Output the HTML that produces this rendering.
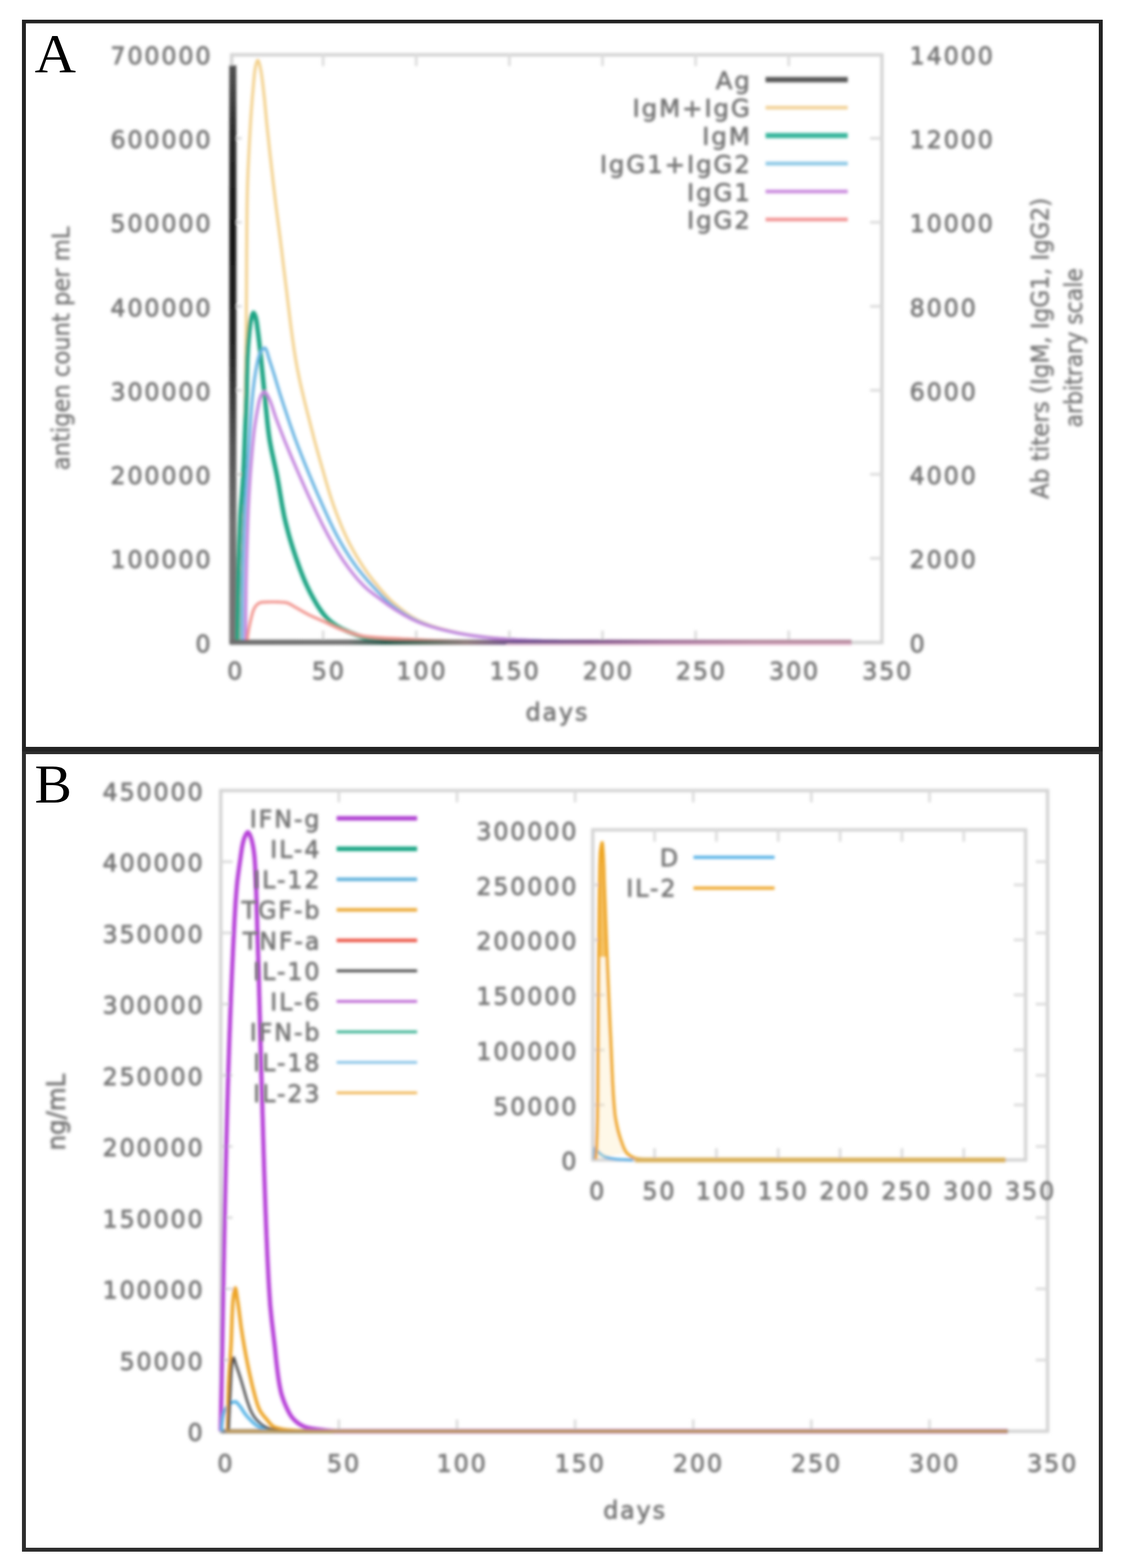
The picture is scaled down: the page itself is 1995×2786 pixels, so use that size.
<!DOCTYPE html>
<html lang="en">
<head>
<meta charset="utf-8">
<title>Immune simulation: antibody titers and cytokine levels</title>
<style>
html,body{margin:0;padding:0;background:#fff;}
body{width:1995px;height:2786px;overflow:hidden;}
svg{display:block;}
svg text{font-family:"DejaVu Sans","Liberation Sans",sans-serif;}
</style>
</head>
<body>
<svg width="1995" height="2786" viewBox="0 0 1995 2786">
<defs><filter id="bl" x="-2%" y="-2%" width="104%" height="104%" filterUnits="objectBoundingBox"><feGaussianBlur stdDeviation="2.6"/></filter><filter id="bt" x="-2%" y="-2%" width="104%" height="104%" filterUnits="objectBoundingBox"><feGaussianBlur stdDeviation="2.4"/></filter></defs>
<rect x="0" y="0" width="1995" height="2786" fill="#ffffff"/>
<g filter="url(#bl)">
<rect x="411.5" y="97.4" width="1155.2" height="1044.2" fill="none" stroke="#d4d4d4" stroke-width="6"/>
<line x1="574" y1="1141.3" x2="574" y2="1120.3" stroke="#dadada" stroke-width="4.5" opacity="1.0"/>
<line x1="574" y1="96.5" x2="574" y2="117.5" stroke="#dadada" stroke-width="4.5" opacity="1.0"/>
<line x1="739.4" y1="1141.3" x2="739.4" y2="1120.3" stroke="#dadada" stroke-width="4.5" opacity="1.0"/>
<line x1="739.4" y1="96.5" x2="739.4" y2="117.5" stroke="#dadada" stroke-width="4.5" opacity="1.0"/>
<line x1="904.9" y1="1141.3" x2="904.9" y2="1120.3" stroke="#dadada" stroke-width="4.5" opacity="1.0"/>
<line x1="904.9" y1="96.5" x2="904.9" y2="117.5" stroke="#dadada" stroke-width="4.5" opacity="1.0"/>
<line x1="1070.3" y1="1141.3" x2="1070.3" y2="1120.3" stroke="#dadada" stroke-width="4.5" opacity="1.0"/>
<line x1="1070.3" y1="96.5" x2="1070.3" y2="117.5" stroke="#dadada" stroke-width="4.5" opacity="1.0"/>
<line x1="1235.8" y1="1141.3" x2="1235.8" y2="1120.3" stroke="#dadada" stroke-width="4.5" opacity="1.0"/>
<line x1="1235.8" y1="96.5" x2="1235.8" y2="117.5" stroke="#dadada" stroke-width="4.5" opacity="1.0"/>
<line x1="1401.2" y1="1141.3" x2="1401.2" y2="1120.3" stroke="#dadada" stroke-width="4.5" opacity="1.0"/>
<line x1="1401.2" y1="96.5" x2="1401.2" y2="117.5" stroke="#dadada" stroke-width="4.5" opacity="1.0"/>
<line x1="408.5" y1="992" x2="429.5" y2="992" stroke="#dadada" stroke-width="4.5" opacity="1.0"/>
<line x1="1566.7" y1="992" x2="1545.7" y2="992" stroke="#dadada" stroke-width="4.5" opacity="1.0"/>
<line x1="408.5" y1="842.8" x2="429.5" y2="842.8" stroke="#dadada" stroke-width="4.5" opacity="1.0"/>
<line x1="1566.7" y1="842.8" x2="1545.7" y2="842.8" stroke="#dadada" stroke-width="4.5" opacity="1.0"/>
<line x1="408.5" y1="693.5" x2="429.5" y2="693.5" stroke="#dadada" stroke-width="4.5" opacity="1.0"/>
<line x1="1566.7" y1="693.5" x2="1545.7" y2="693.5" stroke="#dadada" stroke-width="4.5" opacity="1.0"/>
<line x1="408.5" y1="544.3" x2="429.5" y2="544.3" stroke="#dadada" stroke-width="4.5" opacity="1.0"/>
<line x1="1566.7" y1="544.3" x2="1545.7" y2="544.3" stroke="#dadada" stroke-width="4.5" opacity="1.0"/>
<line x1="408.5" y1="395" x2="429.5" y2="395" stroke="#dadada" stroke-width="4.5" opacity="1.0"/>
<line x1="1566.7" y1="395" x2="1545.7" y2="395" stroke="#dadada" stroke-width="4.5" opacity="1.0"/>
<line x1="408.5" y1="245.8" x2="429.5" y2="245.8" stroke="#dadada" stroke-width="4.5" opacity="1.0"/>
<line x1="1566.7" y1="245.8" x2="1545.7" y2="245.8" stroke="#dadada" stroke-width="4.5" opacity="1.0"/>
<defs><linearGradient id="agv" gradientUnits="userSpaceOnUse" x1="0" y1="116" x2="0" y2="1141"><stop offset="0" stop-color="#505050"/><stop offset="0.12" stop-color="#2a2a2a"/><stop offset="0.3" stop-color="#161616"/><stop offset="0.5" stop-color="#262626"/><stop offset="0.65" stop-color="#505050"/><stop offset="0.8" stop-color="#707070"/><stop offset="1" stop-color="#747474"/></linearGradient><linearGradient id="agh" gradientUnits="userSpaceOnUse" x1="408" y1="0" x2="1513" y2="0"><stop offset="0" stop-color="#6c6c6c"/><stop offset="0.19" stop-color="#707070"/><stop offset="0.25" stop-color="#2c5a4c"/><stop offset="0.31" stop-color="#566a5c"/><stop offset="0.38" stop-color="#8a7878"/><stop offset="0.46" stop-color="#6c4c8a"/><stop offset="0.58" stop-color="#7c5088"/><stop offset="0.7" stop-color="#a0709a"/><stop offset="0.85" stop-color="#b4889e"/><stop offset="1" stop-color="#b88ca0"/></linearGradient></defs>
<rect x="407.3" y="116" width="12.5" height="1028" fill="url(#agv)"/>
<path d="M427 1141 L427.1 1135 L427.3 1129 L427.4 1123 L427.5 1117 L427.7 1111 L427.8 1105 L427.9 1099 L428 1093 L428.2 1087 L428.3 1081 L428.4 1075 L428.6 1069 L428.7 1063 L428.8 1057 L428.9 1051 L429.1 1045 L429.2 1039 L429.3 1033 L429.4 1027 L429.6 1021 L429.7 1015 L429.8 1009 L429.9 1003 L430 1000 L430.1 997 L430.2 991 L430.3 985 L430.4 979 L430.6 973 L430.7 967 L430.8 961 L430.9 955 L431.1 949 L431.2 943 L431.3 937 L431.4 931 L431.6 925 L431.7 919 L431.8 913.1 L431.9 907.1 L432.1 901.1 L432.2 895.1 L432.3 889.1 L432.4 883.1 L432.6 877.1 L432.7 871.1 L432.8 865.1 L432.9 859.1 L433 853.1 L433.1 847.1 L433.3 841.1 L433.4 835.1 L433.5 829.1 L433.6 823.1 L433.7 817.1 L433.8 811.1 L433.9 805.1 L434 800 L434 799.1 L434.1 793.1 L434.2 787.1 L434.3 781.1 L434.4 775.1 L434.5 769.1 L434.6 763.1 L434.7 757.1 L434.8 751.1 L434.9 745.1 L435 739.1 L435.1 733.1 L435.2 727.1 L435.3 721.1 L435.4 715.1 L435.5 709.1 L435.6 703.1 L435.7 697.1 L435.8 691.1 L435.9 685.1 L436 679.1 L436.1 673.1 L436.2 667.1 L436.2 661.1 L436.3 655.1 L436.4 649.1 L436.5 643.1 L436.6 637.1 L436.7 631.1 L436.7 625.1 L436.8 619.1 L436.9 613.1 L437 607.1 L437 601.1 L437.1 595.1 L437.2 589.1 L437.3 583.1 L437.3 577.1 L437.4 571.1 L437.4 565.1 L437.5 560 L437.5 559.1 L437.6 553.1 L437.6 547.1 L437.7 541.1 L437.7 535.1 L437.8 529.1 L437.8 523.1 L437.8 517.1 L437.9 511.1 L437.9 505.1 L437.9 499.1 L438 493.1 L438 487.1 L438 481.1 L438.1 475.1 L438.1 469.1 L438.1 463.1 L438.2 457.1 L438.2 451.1 L438.2 445.1 L438.3 439.1 L438.3 433.1 L438.4 427.1 L438.4 421.1 L438.4 415.1 L438.5 409.1 L438.5 403.1 L438.6 397.1 L438.6 391.1 L438.7 385.1 L438.8 379.1 L438.8 373.1 L438.9 367.1 L439 361.1 L439 360 L439.1 355.1 L439.2 349.1 L439.3 343.1 L439.5 337.1 L439.6 331.1 L439.8 325.1 L440 319.1 L440.3 313.1 L440.5 307.1 L440.7 301.1 L441 295.1 L441.3 289.1 L441.6 283.1 L441.9 277.2 L442.2 271.2 L442.5 265.2 L442.8 259.2 L443.1 253.2 L443.4 247.2 L443.8 241.2 L444.1 235.2 L444.4 229.2 L444.5 228 L444.8 223.2 L445.1 217.2 L445.5 211.2 L445.9 205.3 L446.3 199.3 L446.7 193.3 L447.2 187.3 L447.7 181.3 L448.1 175.3 L448.6 169.4 L449.2 163.4 L449.7 157.4 L450 154 L450.2 151.4 L450.7 145.4 L451.3 139.4 L451.8 133.4 L452.5 127.4 L453.4 121.5 L454 118 L454.6 115.4 L456.7 108.5 L458 107 L459 108 L461.2 114.5 L462 118 L462.6 120.8 L463.7 126.7 L464.7 132.6 L465.5 138.6 L466.3 144.6 L467 150.6 L467.4 154 L467.7 156.5 L468.4 162.5 L469 168.4 L469.7 174.4 L470.3 180.4 L470.8 186.4 L471.4 192.3 L471.9 198.3 L472.5 204.3 L473 210.3 L473.6 216.2 L474.2 222.2 L474.8 228 L474.8 228.2 L475.4 234.1 L476.1 240.1 L476.7 246.1 L477.4 252 L478 258 L478.6 264 L479.3 269.9 L479.9 275.9 L480.6 281.9 L481.3 287.8 L481.9 293.8 L482.6 299.8 L483.3 305.7 L484 311.7 L484.6 317.6 L485.3 323.6 L486 329.6 L486.7 335.5 L487.4 341.5 L488.1 347.4 L488.8 353.4 L489.5 359.4 L489.6 360 L490.2 365.3 L491 371.3 L491.7 377.2 L492.5 383.2 L493.3 389.1 L494 395.1 L494.8 401 L495.6 407 L496.3 412.9 L497.1 418.9 L497.9 424.8 L498.5 430 L498.6 430.8 L499.3 436.7 L500.1 442.7 L500.8 448.6 L501.5 454.6 L502.2 460.6 L502.9 466.5 L503.6 472.5 L504.3 478.4 L505.1 484.4 L505.8 490.3 L506.5 496.3 L507 500 L507.3 502.3 L508 508.2 L508.8 514.2 L509.5 520.1 L510.2 526.1 L510.9 532.1 L511.6 538 L512.3 544 L513.1 550 L513.8 555.9 L514.5 561.9 L515.2 567.8 L516 573.8 L516.7 579.8 L517.5 585.7 L518.3 591.7 L519.1 597.6 L519.9 603.6 L520.8 609.5 L521.6 615.4 L522.5 621.3 L523.4 627.3 L524.4 633.2 L525.3 639.1 L525.5 640 L526.4 645 L527.4 650.9 L528.5 656.7 L529.7 662.6 L530.9 668.5 L532.1 674.4 L533.4 680.2 L534.7 686.1 L536 691.9 L537.4 697.8 L538.8 703.6 L540.2 709.5 L541.6 715.3 L543.1 721.1 L544.5 727 L546 732.8 L547.5 738.6 L549 744.4 L550.5 750.3 L552 756.1 L553.4 761.9 L554.9 767.7 L555.5 770 L556.4 773.5 L557.9 779.3 L559.4 785.1 L561 790.9 L562.6 796.7 L564.2 802.5 L565.8 808.3 L567.4 814.1 L569 819.8 L570.7 825.6 L572.3 831.4 L572.4 831.6 L574 837.1 L575.6 842.9 L577.3 848.7 L578.9 854.5 L580.6 860.2 L582.3 866 L584 871.8 L585.8 877.5 L587.6 883.2 L589.4 888.9 L590.9 893.2 L591.4 894.6 L593.3 900.2 L595.4 905.9 L597.4 911.5 L599.6 917.1 L601.8 922.8 L604 928.3 L606.3 933.9 L608.6 939.4 L611 944.9 L613.5 950.4 L615.5 954.7 L616 955.8 L618.6 961.2 L621.3 966.5 L624.1 971.8 L627 977.1 L630 982.4 L633 987.6 L636.1 992.7 L639.3 997.8 L642.5 1002.9 L643.2 1004 L645.8 1007.9 L649.1 1012.8 L652.6 1017.7 L656.2 1022.5 L659.9 1027.3 L663.6 1032.1 L667.4 1036.7 L670.9 1041 L671.2 1041.3 L675 1045.9 L679 1050.5 L683 1055 L687.1 1059.5 L691.2 1063.8 L695.5 1068 L699.9 1071.9 L700 1072 L704.5 1075.8 L709.1 1079.6 L713.9 1083.4 L718.8 1087 L723.7 1090.6 L728.8 1093.9 L733.9 1097.1 L739.1 1100 L744.4 1102.7 L745 1103 L749.7 1105.1 L755.2 1107.4 L760.8 1109.6 L766.5 1111.6 L772.2 1113.6 L778 1115.4 L783.8 1117.1 L789.6 1118.6 L791 1119 L795.4 1120.1 L801.2 1121.6 L807.1 1122.9 L813 1124.2 L818.9 1125.4 L824.8 1126.5 L830.7 1127.5 L836.6 1128.4 L837 1128.5 L842.5 1129.3 L848.5 1130 L854.4 1130.8 L860.4 1131.5 L866.4 1132.1 L872.3 1132.7 L878.3 1133.3 L884.3 1133.8 L890.3 1134.3 L896.3 1134.8 L898.7 1135 L902.2 1135.3 L908.2 1135.7 L914.2 1136.1 L920.2 1136.5 L926.2 1136.8 L932.2 1137.2 L938.2 1137.5 L944.2 1137.8 L950.2 1138.1 L956.2 1138.3 L960 1138.5 L962.2 1138.6 L968.2 1138.8 L974.1 1139 L980.1 1139.2 L986.1 1139.5 L992.1 1139.7 L998.1 1139.9 L1004.1 1140 L1010.1 1140.2 L1016.1 1140.4 L1022.1 1140.5 L1028.1 1140.7 L1034.1 1140.8 L1040.1 1140.9 L1046.1 1141 L1050 1141" fill="none" stroke="#f3d08c" stroke-width="5.2" stroke-linejoin="round" stroke-linecap="butt" opacity="1.0" />
<path d="M422 1141 L422 1135 L422.1 1129 L422.1 1123 L422.2 1117 L422.3 1111 L422.3 1105 L422.4 1099 L422.5 1093 L422.6 1087 L422.7 1081 L422.8 1075 L422.9 1069 L423 1063 L423 1060 L423.1 1057 L423.2 1051 L423.3 1045 L423.4 1039 L423.5 1033 L423.6 1027 L423.8 1021 L423.9 1015 L424 1009 L424.2 1003 L424.3 997 L424.5 991 L424.7 985 L424.9 979 L425 973 L425.2 967 L425.4 961 L425.6 955 L425.9 949 L426.1 943 L426.3 937 L426.5 931 L426.8 925.1 L427 920 L427 919.1 L427.3 913.1 L427.7 907.1 L428.1 901.1 L428.6 895.1 L429.1 889.1 L429.6 883.2 L430.1 877.2 L430.5 871.2 L431 865.2 L431.4 859.2 L431.8 853.2 L432 850 L432.1 847.2 L432.4 841.3 L432.7 835.3 L433 829.3 L433.3 823.3 L433.5 817.3 L433.8 811.3 L434 805.3 L434.2 799.3 L434.5 793.3 L434.7 787.3 L434.9 781.3 L435 780 L435.2 775.3 L435.4 769.3 L435.7 763.3 L435.9 757.3 L436.2 751.3 L436.4 745.3 L436.7 739.3 L436.9 733.3 L437.1 727.3 L437.3 721.4 L437.5 715.4 L437.7 709.4 L437.9 703.4 L438 700 L438.1 697.4 L438.2 691.4 L438.3 685.4 L438.4 679.4 L438.5 673.4 L438.6 667.4 L438.8 661.4 L438.9 655.4 L439 649.4 L439.2 643.4 L439.3 640 L439.4 637.4 L439.7 631.4 L440 625.4 L440.3 619.4 L440.7 613.4 L441.2 607.4 L441.7 601.4 L442.3 595.5 L442.8 589.5 L443 588 L443.5 583.5 L444.2 577.5 L445.1 571.5 L446.3 565.7 L447 563 L448.1 559.4 L450.3 556 L451 556.4 L453.9 562.5 L454 563 L455.2 568.2 L456.2 574.1 L457 580.2 L457.8 586.2 L458 588 L458.6 592.2 L459.3 598.1 L460 604.1 L460.7 610 L461.3 616 L462 622 L462.6 627.9 L463.3 633.9 L463.9 639.9 L463.9 640 L464.5 645.8 L465.1 651.8 L465.7 657.8 L466.3 663.7 L466.9 669.7 L467.5 675.7 L468.1 681.7 L468.7 687.6 L469.3 693.6 L470 699.6 L470 700 L470.6 705.5 L471.2 711.5 L471.7 717.5 L472.3 723.5 L472.9 729.4 L473.5 735.4 L474.1 741.4 L474.7 747.4 L475.3 753.3 L476 759.3 L476.7 765.2 L477.5 771.2 L478 775 L478.3 777.1 L479.2 783 L480.3 788.9 L481.4 794.8 L482.5 800.7 L483.8 806.6 L485.1 812.4 L486.3 818.3 L487.6 824.2 L488.9 830 L490.2 835.9 L491.4 841.8 L492.4 847 L492.5 847.7 L493.6 853.6 L494.7 859.5 L495.7 865.4 L496.7 871.4 L497.7 877.3 L498.7 883.2 L499.7 889.1 L500.7 895.1 L501.8 901 L502.9 906.8 L504 912.7 L505.2 918.6 L506 922 L506.5 924.4 L507.9 930.2 L509.4 936.1 L510.9 941.9 L512.4 947.7 L514 953.5 L515.7 959.3 L517.4 965 L519.2 970.8 L521 976.5 L522.9 982.2 L524.8 987.9 L526.7 993.6 L528.7 999.2 L529.3 1001 L530.7 1004.9 L532.7 1010.5 L534.9 1016.1 L537.1 1021.8 L539.4 1027.4 L541.7 1032.9 L544.1 1038.4 L546.7 1043.9 L549.3 1049.3 L552 1054.6 L553.8 1058 L554.8 1059.8 L557.7 1065.1 L560.8 1070.4 L563.9 1075.7 L567.3 1080.9 L570.8 1085.9 L574.4 1090.8 L578.2 1095.4 L582.2 1099.6 L584.7 1102 L586.3 1103.4 L590.9 1107.1 L595.9 1110.6 L601.1 1113.8 L606.5 1116.8 L612 1119.4 L615.5 1121 L617.4 1121.8 L622.9 1124.1 L628.5 1126.3 L634.2 1128.4 L639.9 1130.4 L645.7 1132.2 L651.6 1133.9 L657.4 1135.2 L663.3 1136.4 L667.8 1137 L669.2 1137.2 L675.1 1137.8 L681.1 1138.4 L687.1 1138.9 L693.1 1139.2 L698.5 1139.5 L699.1 1139.5 L705.1 1139.8 L711.1 1140 L717.1 1140.2 L723.1 1140.4 L729.1 1140.6 L735.1 1140.7 L741.1 1140.8 L747.1 1140.9 L753.1 1141 L759.1 1141 L760 1141" fill="none" stroke="#1aa484" stroke-width="8" stroke-linejoin="round" stroke-linecap="butt" opacity="1.0" />
<path d="M430 1141 L430 1135 L430 1129 L430 1123 L430.1 1117 L430.1 1111 L430.2 1105 L430.2 1099 L430.3 1093 L430.3 1087 L430.4 1081 L430.4 1075 L430.5 1069 L430.6 1063 L430.6 1060 L430.6 1057 L430.7 1051 L430.8 1045 L430.9 1039 L431 1033 L431.1 1027 L431.3 1021 L431.4 1015 L431.6 1009 L431.7 1003 L431.9 997 L432 991 L432.2 985 L432.4 979 L432.6 973 L432.8 967 L433 961 L433.2 955 L433.4 949 L433.6 943 L433.9 937 L434.1 931 L434.3 925.1 L434.5 920 L434.5 919.1 L434.8 913.1 L435 907.1 L435.3 901.1 L435.6 895.1 L435.9 889.1 L436.2 883.1 L436.6 877.1 L436.9 871.1 L437.3 865.1 L437.7 859.1 L438 853.2 L438.4 847.2 L438.8 841.2 L439.2 835.2 L439.6 829.2 L440 823.2 L440.4 817.2 L440.8 811.2 L441.3 805.3 L441.7 799.3 L442.1 793.3 L442.5 787.3 L442.9 781.3 L443 780 L443.3 775.3 L443.7 769.3 L444.1 763.3 L444.5 757.4 L444.9 751.4 L445.3 745.4 L445.7 739.4 L446.2 733.4 L446.6 727.4 L447.1 721.4 L447.6 715.5 L448.1 709.5 L448.7 703.5 L449 700 L449.2 697.6 L449.9 691.6 L450.6 685.6 L451.3 679.6 L452.1 673.7 L453 667.7 L453.9 661.8 L454.9 655.9 L456 650 L456 650 L457.2 644 L458.5 637.9 L460.1 632 L462.2 626.6 L463 625 L465.6 621.4 L470 618 L470.1 618 L472.7 620.5 L474.9 626.6 L476.9 633.9 L478.7 640 L478.9 640.4 L480.8 646.1 L482.7 651.8 L484.5 657.5 L486.3 663.2 L488.1 668.9 L489.8 674.7 L491.5 680.5 L493.2 686.2 L495 692 L496.7 697.7 L498.5 703.4 L500 708 L500.4 709.1 L502.2 714.8 L504.1 720.5 L506 726.2 L507.9 731.9 L509.8 737.6 L511.7 743.3 L513.6 749 L515.5 754.7 L517.5 760.4 L519.5 766 L521.5 771.7 L523.5 777.3 L524.5 780 L525.6 782.9 L527.7 788.6 L529.8 794.2 L532 799.8 L534.2 805.4 L536.4 810.9 L538.6 816.5 L540.8 822.1 L543.1 827.6 L544.7 831.6 L545.4 833.2 L547.6 838.8 L549.9 844.3 L552.2 849.8 L554.5 855.4 L556.9 860.9 L559.2 866.4 L561.6 872 L563.9 877.5 L566.4 883 L568.8 888.4 L570.9 893.2 L571.2 893.9 L573.7 899.4 L576.1 904.9 L578.6 910.4 L581.1 915.8 L583.6 921.3 L586.1 926.8 L588.7 932.2 L591.3 937.6 L594 943 L596.7 948.3 L599.5 953.6 L600.1 954.7 L602.4 958.8 L605.3 964 L608.3 969.2 L611.4 974.4 L614.5 979.5 L617.8 984.6 L621 989.7 L624.4 994.7 L627.8 999.6 L630.9 1004 L631.2 1004.5 L634.8 1009.3 L638.5 1014 L642.2 1018.7 L646.1 1023.3 L650 1027.9 L653.9 1032.4 L657.9 1036.9 L661.7 1041 L662 1041.3 L666.1 1045.7 L670.2 1050.1 L674.4 1054.5 L678.6 1058.9 L682.9 1063.1 L687.3 1067.3 L691.7 1071.3 L696.3 1075.1 L700 1078 L700.9 1078.7 L705.7 1082.2 L710.6 1085.7 L715.7 1089 L720.8 1092.3 L726 1095.4 L731.3 1098.4 L736.6 1101.1 L742 1103.7 L745 1105 L747.5 1106 L753 1108.2 L758.6 1110.3 L764.3 1112.3 L770 1114.2 L775.8 1115.9 L781.6 1117.6 L787.4 1119.1 L791 1120 L793.2 1120.5 L799.1 1121.9 L804.9 1123.2 L810.8 1124.5 L816.7 1125.6 L822.6 1126.7 L828.6 1127.7 L834.5 1128.6 L837 1129 L840.4 1129.5 L846.3 1130.3 L852.3 1131 L858.3 1131.7 L864.2 1132.4 L870.2 1133.1 L876.2 1133.7 L882.2 1134.2 L888.1 1134.7 L894.1 1135.2 L898.7 1135.5 L900.1 1135.6 L906.1 1136 L912.1 1136.3 L918.1 1136.7 L924.1 1137 L930.1 1137.3 L936 1137.5 L942 1137.8 L948 1138 L954 1138.3 L960 1138.5 L960 1138.5 L966 1138.7 L972 1138.9 L978 1139.1 L984 1139.3 L990 1139.5 L996 1139.7 L1002 1139.9 L1008 1140.1 L1014 1140.2 L1020 1140.4 L1026 1140.5 L1032 1140.7 L1038 1140.8 L1044 1140.9 L1050 1141 L1050 1141" fill="none" stroke="#68b4e2" stroke-width="5.4" stroke-linejoin="round" stroke-linecap="butt" opacity="1.0" />
<path d="M436 1141 L436 1135 L436.1 1129 L436.1 1123 L436.1 1117 L436.2 1111 L436.3 1105 L436.3 1099 L436.4 1093 L436.4 1087 L436.5 1081 L436.6 1075 L436.7 1069 L436.8 1063 L436.8 1060 L436.8 1057 L436.9 1051 L437 1045 L437.1 1039 L437.2 1033 L437.4 1027 L437.5 1021 L437.6 1015 L437.8 1009 L437.9 1003 L438 997 L438.2 991 L438.4 985 L438.5 979 L438.7 973 L438.9 967 L439.1 961 L439.3 955 L439.5 949 L439.7 943 L439.9 937 L440.1 931 L440.3 925 L440.5 920 L440.5 919.1 L440.8 913.1 L441 907.1 L441.3 901.1 L441.6 895.1 L441.9 889.1 L442.2 883.1 L442.5 877.1 L442.9 871.1 L443.2 865.1 L443.6 859.1 L444 853.1 L444.4 847.1 L444.8 841.1 L445.3 835.1 L445.7 829.2 L446.2 823.2 L446.7 817.2 L447.2 811.2 L447.7 805.2 L448.2 799.3 L448.7 793.3 L449.3 787.3 L449.9 781.4 L450 780 L450.5 775.4 L451.1 769.4 L451.8 763.5 L452.6 757.5 L453.5 751.6 L454.4 745.6 L455.3 739.7 L456.4 733.8 L457.4 727.9 L458 725 L458.6 722 L459.7 715.9 L461.1 709.8 L463 704.3 L464 702 L466 699 L470 696 L470.5 696.1 L474.2 700.4 L477 706 L477.3 706.5 L479.7 711.9 L481.9 717.4 L483.8 723.1 L485.6 728.9 L487.5 734.7 L489.4 740.4 L490 742 L491.5 746 L493.6 751.7 L495.7 757.3 L497.8 762.9 L500 768.5 L502.2 774.1 L504.4 779.7 L504.5 780 L506.6 785.2 L508.9 790.8 L511.2 796.3 L513.5 801.9 L515.8 807.4 L518.1 812.9 L520.5 818.4 L522.9 823.9 L525.3 829.5 L526.2 831.6 L527.7 835 L530.1 840.5 L532.5 846 L534.9 851.4 L537.3 856.9 L539.8 862.4 L542.2 867.9 L544.7 873.4 L547.2 878.8 L549.7 884.3 L552.2 889.7 L553.9 893.2 L554.8 895.1 L557.4 900.5 L560 906 L562.5 911.4 L565.2 916.8 L567.8 922.2 L570.5 927.6 L573.2 932.9 L575.9 938.3 L578.7 943.6 L581.5 948.9 L584.4 954.1 L584.7 954.7 L587.3 959.3 L590.3 964.6 L593.3 969.7 L596.4 974.9 L599.6 980.1 L602.8 985.1 L606 990.2 L609.3 995.2 L612.7 1000.1 L615.5 1004 L616.2 1005 L619.7 1009.8 L623.4 1014.6 L627.1 1019.4 L630.9 1024.1 L634.8 1028.7 L638.8 1033.2 L642.9 1037.5 L646.3 1041 L647.1 1041.7 L651.4 1045.7 L656 1049.6 L660.7 1053.3 L665.5 1057 L670.4 1060.6 L675.2 1064.2 L677.1 1065.6 L680 1067.8 L684.8 1071.4 L689.7 1075 L694.6 1078.4 L698.5 1081 L699.6 1081.7 L704.7 1084.9 L709.8 1088 L715 1091.1 L720.2 1094.1 L725.5 1097 L730.9 1099.8 L736.3 1102.4 L741.7 1104.8 L744.7 1106 L747.2 1107 L752.8 1109 L758.5 1110.9 L764.2 1112.8 L770 1114.5 L775.8 1116.1 L781.7 1117.7 L787.5 1119.2 L791 1120 L793.3 1120.5 L799.1 1121.9 L805 1123.2 L810.9 1124.4 L816.8 1125.6 L822.7 1126.7 L828.6 1127.7 L834.5 1128.6 L837 1129 L840.5 1129.5 L846.4 1130.3 L852.4 1131 L858.3 1131.7 L864.3 1132.4 L870.3 1133.1 L876.2 1133.7 L882.2 1134.2 L888.2 1134.7 L894.2 1135.2 L898.7 1135.5 L900.2 1135.6 L906.1 1136 L912.1 1136.3 L918.1 1136.7 L924.1 1137 L930.1 1137.3 L936.1 1137.5 L942.1 1137.8 L948.1 1138.1 L954.1 1138.3 L960 1138.5 L960.1 1138.5 L966.1 1138.7 L972.1 1138.9 L978.1 1139.1 L984.1 1139.3 L990.1 1139.5 L996.1 1139.7 L1002.1 1139.9 L1008.1 1140.1 L1014.1 1140.2 L1020.1 1140.4 L1026.1 1140.5 L1032.1 1140.7 L1038.1 1140.8 L1044.1 1140.9 L1050 1141" fill="none" stroke="#c284de" stroke-width="5.4" stroke-linejoin="round" stroke-linecap="butt" opacity="1.0" />
<path d="M439 1141 L439.5 1134.9 L440.2 1128.9 L441.1 1123 L442.1 1117.1 L443.3 1111.2 L444.5 1105.4 L445.4 1101.6 L445.9 1099.6 L447.4 1093.4 L449.1 1087.3 L451.3 1081.7 L454 1077 L454 1077 L458.4 1072.7 L463.9 1070.2 L464 1070.2 L469.6 1069.9 L475.7 1069.6 L481.9 1069.5 L485 1069.5 L487.9 1069.5 L494 1069.7 L500.1 1070 L505.9 1070.4 L507 1070.5 L511.6 1071.6 L517 1074.3 L522.3 1077.6 L525.5 1079.4 L527.6 1080.5 L532.8 1083.4 L538 1086.4 L543.3 1089.4 L548.5 1092.3 L550 1093 L553.9 1094.9 L559.4 1097.3 L564.9 1099.7 L570.4 1102.1 L574.7 1104 L575.9 1104.5 L581.3 1107.2 L586.7 1109.9 L592.1 1112.5 L597.5 1115.1 L603 1117.4 L606 1118.5 L608.6 1119.4 L614.3 1121.4 L620 1123.3 L625.8 1125.2 L631.6 1126.9 L637.5 1128.4 L643.3 1129.7 L649.2 1130.7 L652 1131 L655.1 1131.3 L661 1131.9 L667 1132.4 L672.9 1132.8 L678.9 1133.2 L684.9 1133.5 L691 1133.8 L697 1134.1 L703 1134.4 L709 1134.7 L714 1135 L715 1135.1 L721 1135.4 L727 1135.7 L733 1136.1 L739 1136.4 L745 1136.7 L751 1137 L757 1137.3 L763 1137.5 L768.9 1137.8 L774.9 1138 L775 1138 L780.9 1138.2 L786.9 1138.4 L792.9 1138.6 L798.9 1138.8 L804.9 1139 L810.9 1139.2 L816.9 1139.3 L822.9 1139.5 L828.9 1139.7 L834.9 1139.8 L840.9 1140 L846.9 1140.1 L852.9 1140.3 L858.9 1140.4 L864.9 1140.5 L870.9 1140.6 L876.9 1140.7 L882.9 1140.8 L888.9 1140.9 L894.9 1141 L900 1141" fill="none" stroke="#f29690" stroke-width="5.2" stroke-linejoin="round" stroke-linecap="butt" opacity="1.0" />
<rect x="408" y="1136.6" width="1104.8" height="9" fill="url(#agh)"/>
<rect x="900" y="1143.5" width="612.8" height="3.5" fill="#f0c8dc" opacity="0.8"/>
<line x1="1360" y1="141.5" x2="1506" y2="141.5" stroke="#585858" stroke-width="9.4" opacity="1.0"/>
<line x1="1360" y1="191.2" x2="1506" y2="191.2" stroke="#f2d298" stroke-width="6.6" opacity="1.0"/>
<line x1="1360" y1="240.9" x2="1506" y2="240.9" stroke="#38b69c" stroke-width="9.2" opacity="1.0"/>
<line x1="1360" y1="290.6" x2="1506" y2="290.6" stroke="#8ec9e6" stroke-width="6.6" opacity="1.0"/>
<line x1="1360" y1="340.3" x2="1506" y2="340.3" stroke="#cb8cdf" stroke-width="6.4" opacity="1.0"/>
<line x1="1360" y1="390" x2="1506" y2="390" stroke="#f29494" stroke-width="6.4" opacity="1.0"/>
<rect x="392.2" y="1404.6" width="1468.8" height="1138.4" fill="none" stroke="#d4d4d4" stroke-width="6"/>
<line x1="602" y1="2543" x2="602" y2="2522" stroke="#dadada" stroke-width="4.5" opacity="1.0"/>
<line x1="602" y1="1404.6" x2="602" y2="1425.6" stroke="#dadada" stroke-width="4.5" opacity="1.0"/>
<line x1="811.9" y1="2543" x2="811.9" y2="2522" stroke="#dadada" stroke-width="4.5" opacity="1.0"/>
<line x1="811.9" y1="1404.6" x2="811.9" y2="1425.6" stroke="#dadada" stroke-width="4.5" opacity="1.0"/>
<line x1="1021.7" y1="2543" x2="1021.7" y2="2522" stroke="#dadada" stroke-width="4.5" opacity="1.0"/>
<line x1="1021.7" y1="1404.6" x2="1021.7" y2="1425.6" stroke="#dadada" stroke-width="4.5" opacity="1.0"/>
<line x1="1231.5" y1="2543" x2="1231.5" y2="2522" stroke="#dadada" stroke-width="4.5" opacity="1.0"/>
<line x1="1231.5" y1="1404.6" x2="1231.5" y2="1425.6" stroke="#dadada" stroke-width="4.5" opacity="1.0"/>
<line x1="1441.3" y1="2543" x2="1441.3" y2="2522" stroke="#dadada" stroke-width="4.5" opacity="1.0"/>
<line x1="1441.3" y1="1404.6" x2="1441.3" y2="1425.6" stroke="#dadada" stroke-width="4.5" opacity="1.0"/>
<line x1="1651.2" y1="2543" x2="1651.2" y2="2522" stroke="#dadada" stroke-width="4.5" opacity="1.0"/>
<line x1="1651.2" y1="1404.6" x2="1651.2" y2="1425.6" stroke="#dadada" stroke-width="4.5" opacity="1.0"/>
<line x1="392.2" y1="2416.5" x2="413.2" y2="2416.5" stroke="#dadada" stroke-width="4.5" opacity="1.0"/>
<line x1="1861" y1="2416.5" x2="1840" y2="2416.5" stroke="#dadada" stroke-width="4.5" opacity="1.0"/>
<line x1="392.2" y1="2290" x2="413.2" y2="2290" stroke="#dadada" stroke-width="4.5" opacity="1.0"/>
<line x1="1861" y1="2290" x2="1840" y2="2290" stroke="#dadada" stroke-width="4.5" opacity="1.0"/>
<line x1="392.2" y1="2163.5" x2="413.2" y2="2163.5" stroke="#dadada" stroke-width="4.5" opacity="1.0"/>
<line x1="1861" y1="2163.5" x2="1840" y2="2163.5" stroke="#dadada" stroke-width="4.5" opacity="1.0"/>
<line x1="392.2" y1="2037" x2="413.2" y2="2037" stroke="#dadada" stroke-width="4.5" opacity="1.0"/>
<line x1="1861" y1="2037" x2="1840" y2="2037" stroke="#dadada" stroke-width="4.5" opacity="1.0"/>
<line x1="392.2" y1="1910.6" x2="413.2" y2="1910.6" stroke="#dadada" stroke-width="4.5" opacity="1.0"/>
<line x1="1861" y1="1910.6" x2="1840" y2="1910.6" stroke="#dadada" stroke-width="4.5" opacity="1.0"/>
<line x1="392.2" y1="1784.1" x2="413.2" y2="1784.1" stroke="#dadada" stroke-width="4.5" opacity="1.0"/>
<line x1="1861" y1="1784.1" x2="1840" y2="1784.1" stroke="#dadada" stroke-width="4.5" opacity="1.0"/>
<line x1="392.2" y1="1657.6" x2="413.2" y2="1657.6" stroke="#dadada" stroke-width="4.5" opacity="1.0"/>
<line x1="1861" y1="1657.6" x2="1840" y2="1657.6" stroke="#dadada" stroke-width="4.5" opacity="1.0"/>
<line x1="392.2" y1="1531.1" x2="413.2" y2="1531.1" stroke="#dadada" stroke-width="4.5" opacity="1.0"/>
<line x1="1861" y1="1531.1" x2="1840" y2="1531.1" stroke="#dadada" stroke-width="4.5" opacity="1.0"/>
<line x1="392.2" y1="2543" x2="1790.3" y2="2543" stroke="#8a8a8a" stroke-width="8" opacity="1.0"/>
<path d="M392 2543 L392.1 2537 L392.2 2531 L392.3 2525 L392.5 2519 L392.6 2513 L392.7 2507 L392.8 2501 L392.9 2495 L393 2489 L393.2 2483 L393.3 2477 L393.4 2471 L393.4 2470 L393.5 2465 L393.6 2459 L393.7 2453 L393.8 2447 L393.9 2441 L394 2435 L394.1 2429 L394.3 2423 L394.4 2417 L394.5 2411 L394.6 2405 L394.7 2399 L394.8 2393 L394.9 2387 L395 2381 L395.1 2375 L395.2 2369 L395.3 2363 L395.4 2357 L395.5 2351 L395.6 2345 L395.7 2339 L395.8 2333 L395.9 2327 L396 2321 L396.1 2315 L396.2 2309 L396.3 2303 L396.4 2297 L396.6 2291 L396.7 2285 L396.8 2279 L396.9 2273 L397 2267 L397.1 2261 L397.2 2255 L397.3 2249 L397.4 2243 L397.6 2237.1 L397.7 2231.1 L397.8 2225.1 L397.9 2219.1 L398 2213.1 L398.2 2207.1 L398.3 2201.1 L398.3 2200 L398.4 2195.1 L398.5 2189.1 L398.7 2183.1 L398.8 2177.1 L398.9 2171.1 L399 2165.1 L399.2 2159.1 L399.3 2153.1 L399.4 2147.1 L399.5 2141.1 L399.7 2135.1 L399.8 2129.1 L399.9 2123.1 L400.1 2117.1 L400.2 2111.1 L400.3 2105.1 L400.5 2099.1 L400.6 2093.1 L400.8 2087.1 L400.9 2081.1 L401 2075.1 L401.2 2069.1 L401.3 2063.1 L401.5 2057.1 L401.6 2051.1 L401.8 2045.1 L401.9 2039.1 L402 2033.1 L402.2 2027.1 L402.3 2021.1 L402.5 2015.1 L402.7 2009.1 L402.8 2003.1 L403 1997.1 L403.1 1991.1 L403.3 1985.1 L403.5 1979.1 L403.6 1973.1 L403.8 1967.1 L403.9 1961.1 L404.1 1955.1 L404.3 1949.1 L404.5 1943.1 L404.6 1937.1 L404.8 1931.1 L405 1925.1 L405 1925 L405.2 1919.1 L405.4 1913.1 L405.5 1907.1 L405.7 1901.2 L405.9 1895.2 L406.1 1889.2 L406.3 1883.2 L406.5 1877.2 L406.7 1871.2 L406.9 1865.2 L407.1 1859.2 L407.3 1853.2 L407.5 1847.2 L407.7 1841.2 L407.9 1835.2 L408.2 1829.2 L408.4 1823.2 L408.6 1817.2 L408.8 1811.2 L409 1805.2 L409.3 1799.2 L409.5 1793.2 L409.7 1787.2 L410 1781.2 L410.2 1775.2 L410.4 1769.2 L410.7 1763.2 L410.9 1757.2 L411.2 1751.2 L411.4 1745.2 L411.7 1739.2 L411.9 1733.3 L412.2 1727.3 L412.5 1721.3 L412.7 1715.3 L413 1709.3 L413.3 1703.3 L413.6 1697.3 L413.8 1691.3 L414.1 1685.3 L414.4 1679.3 L414.7 1673.3 L415 1667.3 L415.3 1661.3 L415.6 1655.3 L415.6 1655 L415.9 1649.4 L416.2 1643.4 L416.5 1637.4 L416.8 1631.4 L417.2 1625.4 L417.5 1619.4 L417.9 1613.4 L418.2 1607.4 L418.6 1601.4 L419.1 1595.4 L419.5 1589.4 L420 1583.5 L420.5 1577.5 L420.5 1577 L421 1571.5 L421.6 1565.6 L422.3 1559.6 L423.1 1553.6 L423.9 1547.7 L424.7 1541.7 L425.6 1535.8 L426.4 1529.9 L426.7 1528 L427.3 1523.9 L428.1 1517.9 L429 1511.9 L429.9 1505.9 L431 1500 L432.4 1494.3 L433 1492 L434.3 1488.2 L437.3 1481.5 L440.2 1478.5 L440.3 1478.5 L443.4 1482.1 L446.1 1489 L447 1492 L447.7 1495 L449 1500.7 L450.1 1506.7 L451 1512.7 L451.7 1518.7 L452.3 1524.7 L452.5 1528 L452.7 1530.7 L453.1 1536.7 L453.4 1542.6 L453.7 1548.6 L454 1554.6 L454.3 1560.6 L454.6 1566.6 L454.8 1572.6 L455 1578.6 L455.2 1584.6 L455.4 1590.6 L455.6 1596.6 L455.8 1602.6 L456 1608.6 L456.1 1614.6 L456.3 1620.6 L456.4 1626.6 L456.6 1632.6 L456.8 1638.6 L456.9 1644.6 L457.1 1650.6 L457.3 1656.6 L457.4 1660 L457.5 1662.6 L457.7 1668.6 L457.9 1674.6 L458.1 1680.6 L458.2 1686.6 L458.4 1692.6 L458.6 1698.6 L458.8 1704.6 L458.9 1710.6 L459.1 1716.6 L459.3 1722.6 L459.5 1728.6 L459.6 1734.6 L459.8 1740.6 L460 1746.6 L460.1 1752.6 L460.3 1758.6 L460.4 1764.6 L460.6 1770.6 L460.8 1776.6 L460.9 1782.6 L461.1 1788.6 L461.2 1794.6 L461.4 1800.6 L461.6 1806.6 L461.7 1812.6 L461.9 1818.6 L462 1824.6 L462.2 1830.6 L462.3 1836.6 L462.5 1842.6 L462.7 1848.6 L462.8 1854.6 L463 1860.6 L463.1 1866.6 L463.3 1872.6 L463.5 1878.6 L463.6 1884.5 L463.8 1890.5 L464 1896.5 L464.1 1902.5 L464.3 1908.5 L464.5 1914.5 L464.7 1920.5 L464.8 1925 L464.8 1926.5 L465 1932.5 L465.2 1938.5 L465.4 1944.5 L465.5 1950.5 L465.7 1956.5 L465.9 1962.5 L466.1 1968.5 L466.2 1974.5 L466.4 1980.5 L466.6 1986.5 L466.8 1992.5 L466.9 1998.5 L467.1 2004.5 L467.3 2010.5 L467.4 2016.5 L467.6 2022.5 L467.8 2028.5 L468 2034.5 L468.1 2040.5 L468.3 2046.5 L468.5 2052.5 L468.7 2058.5 L468.9 2064.5 L469 2070.5 L469.2 2076.5 L469.4 2082.5 L469.6 2088.5 L469.8 2094.5 L470 2100.5 L470.2 2106.5 L470.4 2112.5 L470.6 2118.5 L470.8 2124.5 L471 2130.4 L471.2 2136.4 L471.4 2142.4 L471.6 2148.4 L471.8 2154.4 L472.1 2160.4 L472.3 2166.4 L472.5 2172.4 L472.7 2178.4 L473 2184.4 L473.2 2190.4 L473.4 2195 L473.5 2196.4 L473.7 2202.4 L474 2208.4 L474.2 2214.4 L474.5 2220.4 L474.7 2226.4 L475 2232.4 L475.3 2238.4 L475.6 2244.4 L475.9 2250.4 L476.2 2256.4 L476.5 2262.3 L476.8 2268.3 L477.1 2274.3 L477.5 2280.3 L477.8 2286.3 L478.2 2292.3 L478.6 2298.3 L479 2304.3 L479.4 2310.2 L479.6 2313 L479.8 2316.2 L480.3 2322.2 L480.9 2328.2 L481.5 2334.1 L482.1 2340.1 L482.7 2346.1 L483.4 2352 L484.1 2358 L484.8 2364 L485.5 2369.9 L486.2 2375.9 L486.9 2381.8 L487.6 2387.8 L488.2 2393 L488.3 2393.8 L488.9 2399.7 L489.5 2405.7 L490.1 2411.7 L490.7 2417.7 L491.4 2423.6 L492.1 2429.6 L492.8 2435.5 L493 2437 L493.6 2441.5 L494.4 2447.4 L495.3 2453.4 L496.3 2459.3 L497.4 2465.2 L498.6 2471.1 L499.3 2474 L500 2476.9 L501.8 2482.6 L503.8 2488.3 L506 2493.9 L508 2498.5 L508.4 2499.4 L510.9 2504.9 L513.6 2510.3 L516.7 2515.4 L517.8 2517 L520.3 2520.1 L524.5 2524.5 L529.2 2528.4 L530 2529 L534.1 2531.7 L539.6 2534.5 L542.4 2535.5 L545.2 2536.3 L551 2537.6 L556.9 2538.6 L562.9 2539.5 L567 2540 L568.9 2540.2 L574.9 2541 L580.8 2541.7 L586.8 2542.3 L592.8 2542.8 L598.8 2543 L600 2543 L604.8 2543 L610.8 2543 L616.7 2543 L622.7 2543 L628.7 2543 L634.7 2543 L640.7 2543 L646.7 2543 L652.6 2543 L658.6 2543 L664.6 2543 L670.6 2543 L676.6 2543 L682.6 2543 L688.6 2543 L694.5 2543 L700.5 2543 L706.5 2543 L712.5 2543 L718.5 2543 L724.5 2543 L730.5 2543 L736.4 2543 L742.4 2543 L748.4 2543 L754.4 2543 L760.4 2543 L766.4 2543 L772.4 2543 L778.3 2543 L784.3 2543 L790.3 2543 L796.3 2543 L802.3 2543 L808.3 2543 L814.3 2543 L820.3 2543 L826.2 2543 L832.2 2543 L838.2 2543 L844.2 2543 L850.2 2543 L856.2 2543 L862.2 2543 L868.2 2543 L874.2 2543 L880.1 2543 L886.1 2543 L892.1 2543 L898.1 2543 L904.1 2543 L910.1 2543 L916.1 2543 L922.1 2543 L928.1 2543 L934 2543 L940 2543 L946 2543 L952 2543 L958 2543 L964 2543 L970 2543 L976 2543 L982 2543 L988 2543 L994 2543 L1000 2543 L1005.9 2543 L1011.9 2543 L1017.9 2543 L1023.9 2543 L1029.9 2543 L1035.9 2543 L1041.9 2543 L1047.9 2543 L1053.9 2543 L1059.9 2543 L1065.9 2543 L1071.9 2543 L1077.9 2543 L1083.9 2543 L1089.9 2543 L1095.8 2543 L1101.8 2543 L1107.8 2543 L1113.8 2543 L1119.8 2543 L1125.8 2543 L1131.8 2543 L1137.8 2543 L1143.8 2543 L1149.8 2543 L1155.8 2543 L1161.8 2543 L1167.8 2543 L1173.8 2543 L1179.8 2543 L1185.8 2543 L1191.8 2543 L1197.8 2543 L1203.8 2543 L1209.8 2543 L1215.8 2543 L1221.8 2543 L1227.8 2543 L1233.8 2543 L1239.8 2543 L1245.8 2543 L1251.8 2543 L1257.8 2543 L1263.8 2543 L1269.8 2543 L1275.8 2543 L1281.8 2543 L1287.8 2543 L1293.8 2543 L1299.8 2543 L1305.8 2543 L1311.8 2543 L1317.8 2543 L1323.8 2543 L1329.8 2543 L1335.8 2543 L1341.8 2543 L1347.8 2543 L1353.8 2543 L1359.8 2543 L1365.8 2543 L1371.8 2543 L1377.8 2543 L1383.8 2543 L1389.8 2543 L1395.8 2543 L1401.9 2543 L1407.9 2543 L1413.9 2543 L1419.9 2543 L1425.9 2543 L1431.9 2543 L1437.9 2543 L1443.9 2543 L1449.9 2543 L1455.9 2543 L1461.9 2543 L1467.9 2543 L1473.9 2543 L1479.9 2543 L1486 2543 L1492 2543 L1498 2543 L1504 2543 L1510 2543 L1516 2543 L1522 2543 L1528 2543 L1534 2543 L1540.1 2543 L1546.1 2543 L1552.1 2543 L1558.1 2543 L1564.1 2543 L1570.1 2543 L1576.1 2543 L1582.1 2543 L1588.2 2543 L1594.2 2543 L1600.2 2543 L1606.2 2543 L1612.2 2543 L1618.2 2543 L1624.2 2543 L1630.3 2543 L1636.3 2543 L1642.3 2543 L1648.3 2543 L1654.3 2543 L1660.3 2543 L1666.4 2543 L1672.4 2543 L1678.4 2543 L1684.4 2543 L1690.4 2543 L1696.5 2543 L1702.5 2543 L1708.5 2543 L1714.5 2543 L1720.5 2543 L1726.6 2543 L1732.6 2543 L1738.6 2543 L1744.6 2543 L1750.6 2543 L1756.7 2543 L1762.7 2543 L1768.7 2543 L1774.7 2543 L1780.7 2543 L1786.8 2543 L1790.3 2543" fill="none" stroke="#b640d8" stroke-width="7.5" stroke-linejoin="round" stroke-linecap="butt" opacity="1.0" />
<path d="M393.5 2543 L393.7 2537 L394.2 2531 L394.8 2525 L395.5 2520 L395.6 2519.1 L396.8 2513.1 L398.5 2507.4 L399 2506 L401.2 2502.1 L405 2497.5 L405.1 2497.4 L409.6 2493.3 L412 2492 L415.1 2491 L418 2490.5 L420.4 2491.5 L424.6 2496.5 L425.4 2497.5 L428.3 2501.3 L431.5 2506.4 L434.8 2511.4 L435.3 2512 L438.6 2516.1 L442.6 2520.6 L446.4 2524.5 L446.8 2524.9 L451.2 2529.1 L455.9 2532.9 L458.7 2534.5 L461 2535.6 L466.6 2537.8 L472.5 2539.6 L478.4 2540.8 L480 2541 L484.3 2541.4 L490.3 2541.9 L496.3 2542.3 L502.3 2542.6 L508.3 2542.8 L514.3 2543 L520 2543 L520.4 2543 L526.4 2543 L532.3 2543 L538.3 2543 L544.3 2543 L550.3 2543 L556.3 2543 L562.3 2543 L568.3 2543 L574.3 2543 L580.3 2543 L586.3 2543 L592.3 2543 L598.3 2543 L604.3 2543 L610.3 2543 L616.3 2543 L622.3 2543 L628.3 2543 L634.3 2543 L640.3 2543 L646.3 2543 L652.3 2543 L658.3 2543 L664.2 2543 L670.2 2543 L676.2 2543 L682.2 2543 L688.2 2543 L694.2 2543 L700.2 2543 L706.2 2543 L712.2 2543 L718.2 2543 L724.2 2543 L730.2 2543 L736.2 2543 L742.2 2543 L748.2 2543 L754.2 2543 L760.2 2543 L766.2 2543 L772.2 2543 L778.2 2543 L784.2 2543 L790.2 2543 L796.2 2543 L802.2 2543 L808.2 2543 L814.2 2543 L820.1 2543 L826.1 2543 L832.1 2543 L838.1 2543 L844.1 2543 L850.1 2543 L856.1 2543 L862.1 2543 L868.1 2543 L874.1 2543 L880.1 2543 L886.1 2543 L892.1 2543 L898.1 2543 L904.1 2543 L910.1 2543 L916.1 2543 L922.1 2543 L928.1 2543 L934.1 2543 L940.1 2543 L946.1 2543 L952.1 2543 L958.1 2543 L964.1 2543 L970.1 2543 L976.1 2543 L982.1 2543 L988.1 2543 L994.1 2543 L1000.1 2543 L1006.1 2543 L1012.1 2543 L1018.1 2543 L1024.1 2543 L1030.1 2543 L1036.1 2543 L1042.1 2543 L1048.1 2543 L1054.1 2543 L1060.1 2543 L1066.1 2543 L1072 2543 L1078 2543 L1084 2543 L1090 2543 L1096 2543 L1102 2543 L1108 2543 L1114 2543 L1120 2543 L1126 2543 L1132 2543 L1138 2543 L1144 2543 L1150 2543 L1156 2543 L1162 2543 L1168 2543 L1174 2543 L1180 2543 L1186 2543 L1192 2543 L1198 2543 L1204 2543 L1210 2543 L1216 2543 L1222 2543 L1228 2543 L1234 2543 L1240 2543 L1246 2543 L1252 2543 L1258 2543 L1264 2543 L1270 2543 L1276 2543 L1282 2543 L1288 2543 L1294 2543 L1300 2543 L1306 2543 L1312 2543 L1318 2543 L1324 2543 L1330 2543 L1336 2543 L1342 2543 L1348 2543 L1354.1 2543 L1360.1 2543 L1366.1 2543 L1372.1 2543 L1378.1 2543 L1384.1 2543 L1390.1 2543 L1396.1 2543 L1402.1 2543 L1408.1 2543 L1414.1 2543 L1420.1 2543 L1426.1 2543 L1432.1 2543 L1438.1 2543 L1444.1 2543 L1450.1 2543 L1456.1 2543 L1462.1 2543 L1468.1 2543 L1474.1 2543 L1480.1 2543 L1486.1 2543 L1492.1 2543 L1498.1 2543 L1504.1 2543 L1510.1 2543 L1516.1 2543 L1522.1 2543 L1528.1 2543 L1534.1 2543 L1540.1 2543 L1546.1 2543 L1552.1 2543 L1558.1 2543 L1564.1 2543 L1570.2 2543 L1576.2 2543 L1582.2 2543 L1588.2 2543 L1594.2 2543 L1600.2 2543 L1606.2 2543 L1612.2 2543 L1618.2 2543 L1624.2 2543 L1630.2 2543 L1636.2 2543 L1642.2 2543 L1648.2 2543 L1654.2 2543 L1660.2 2543 L1666.2 2543 L1672.2 2543 L1678.2 2543 L1684.2 2543 L1690.3 2543 L1696.3 2543 L1702.3 2543 L1708.3 2543 L1714.3 2543 L1720.3 2543 L1726.3 2543 L1732.3 2543 L1738.3 2543 L1744.3 2543 L1750.3 2543 L1756.3 2543 L1762.3 2543 L1768.3 2543 L1774.3 2543 L1780.3 2543 L1786.4 2543 L1790.3 2543" fill="none" stroke="#58b4e6" stroke-width="5.8" stroke-linejoin="round" stroke-linecap="butt" opacity="1.0" />
<path d="M404.5 2543 L404.5 2537 L404.5 2531 L404.6 2525 L404.7 2519 L404.8 2513 L404.9 2507 L405 2501 L405.1 2495 L405.2 2489 L405.4 2483 L405.5 2477 L405.7 2471 L405.7 2470 L405.8 2465 L406.1 2459 L406.4 2453 L406.7 2447 L407.1 2441.1 L407.4 2435.1 L407.9 2429.1 L408.3 2423.1 L408.7 2417.1 L409.1 2411.1 L409.5 2405.1 L409.9 2399.1 L410.3 2393.1 L410.6 2387.2 L410.6 2387 L410.9 2381.2 L411.1 2375.2 L411.3 2369.1 L411.5 2363.1 L411.7 2357.1 L411.9 2351.1 L412.1 2345.1 L412.3 2339.1 L412.6 2333.1 L412.9 2327.1 L413.2 2321.1 L413.6 2315.2 L414 2310 L414.1 2309.2 L414.9 2301.9 L416.1 2294.4 L417.4 2289.3 L418 2288.5 L418.5 2289.2 L419.7 2294.2 L420.8 2301.7 L421.8 2309 L422 2310 L422.8 2315 L423.6 2320.9 L424.4 2326.9 L425.2 2332.8 L425.9 2338.8 L426.7 2344.7 L427.4 2350.7 L428.2 2356.6 L429 2362 L429.1 2362.6 L430 2368.5 L430.9 2374.4 L431.9 2380.3 L432.9 2386.3 L433.9 2392.2 L435 2398.1 L435.3 2400 L436 2404 L437.1 2409.9 L438.3 2415.8 L439.4 2421.7 L440.6 2427.5 L441.8 2433.4 L443.1 2439.3 L443.9 2443 L444.4 2445.1 L445.7 2451 L447 2456.9 L448.4 2462.7 L449.9 2468.5 L451.3 2474 L451.4 2474.3 L452.9 2480.2 L454.5 2486 L456.2 2491.9 L458.1 2497.6 L460.3 2503.1 L461 2504.7 L462.9 2508.2 L466.3 2513.1 L470.2 2517.9 L474.2 2522.4 L474.7 2523 L478.1 2527.3 L482.3 2532.1 L486.8 2535.4 L487 2535.5 L491.9 2537.1 L497.6 2538.5 L503.7 2539.7 L509.9 2540.6 L516.2 2541.2 L520 2541.5 L522.2 2541.6 L528.1 2542 L534.1 2542.3 L540.1 2542.6 L546.1 2542.8 L552.2 2542.9 L558.2 2543 L560 2543 L564.2 2543 L570.2 2543 L576.2 2543 L582.2 2543 L588.1 2543 L594.1 2543 L600.1 2543 L606.1 2543 L612.1 2543 L618.1 2543 L624.1 2543 L630.1 2543 L636.1 2543 L642.1 2543 L648.1 2543 L654.1 2543 L660.1 2543 L666.1 2543 L672.1 2543 L678.1 2543 L684.1 2543 L690.1 2543 L696.1 2543 L702.1 2543 L708.1 2543 L714.1 2543 L720.1 2543 L726.1 2543 L732.1 2543 L738.1 2543 L744.1 2543 L750.1 2543 L756.1 2543 L762.1 2543 L768.1 2543 L774.1 2543 L780.1 2543 L786.1 2543 L792.1 2543 L798.1 2543 L804.1 2543 L810.1 2543 L816.1 2543 L822.1 2543 L828.1 2543 L834.1 2543 L840 2543 L846 2543 L852 2543 L858 2543 L864 2543 L870 2543 L876 2543 L882 2543 L888 2543 L894 2543 L900 2543 L906 2543 L912 2543 L918 2543 L924 2543 L930 2543 L936 2543 L942 2543 L948 2543 L954 2543 L960 2543 L966 2543 L972 2543 L978 2543 L984 2543 L990 2543 L996 2543 L1002 2543 L1008 2543 L1014 2543 L1020 2543 L1026 2543 L1032 2543 L1038 2543 L1044 2543 L1050 2543 L1056 2543 L1062 2543 L1068 2543 L1074 2543 L1080 2543 L1086 2543 L1092 2543 L1098 2543 L1104 2543 L1110 2543 L1116 2543 L1122 2543 L1128 2543 L1134 2543 L1140 2543 L1146 2543 L1152 2543 L1158 2543 L1164 2543 L1170 2543 L1176 2543 L1182 2543 L1188 2543 L1194 2543 L1200 2543 L1206 2543 L1212 2543 L1218 2543 L1224 2543 L1230 2543 L1236 2543 L1242 2543 L1248 2543 L1254 2543 L1260 2543 L1266 2543 L1272 2543 L1278 2543 L1284 2543 L1290 2543 L1296 2543 L1302 2543 L1308 2543 L1314 2543 L1320 2543 L1326 2543 L1332 2543 L1338 2543 L1344 2543 L1350 2543 L1356 2543 L1362 2543 L1368 2543 L1374 2543 L1380 2543 L1386 2543 L1392 2543 L1398 2543 L1404 2543 L1410 2543 L1416 2543 L1422 2543 L1428 2543 L1434 2543 L1440 2543 L1446 2543 L1452 2543 L1458 2543 L1464 2543 L1470 2543 L1476 2543 L1482 2543 L1488 2543 L1494 2543 L1500 2543 L1506 2543 L1512 2543 L1518 2543 L1524 2543 L1530 2543 L1536 2543 L1542 2543 L1548 2543 L1554 2543 L1560 2543 L1566 2543 L1572 2543 L1578 2543 L1584.1 2543 L1590.1 2543 L1596.1 2543 L1602.1 2543 L1608.1 2543 L1614.1 2543 L1620.1 2543 L1626.1 2543 L1632.1 2543 L1638.1 2543 L1644.1 2543 L1650.1 2543 L1656.1 2543 L1662.1 2543 L1668.1 2543 L1674.1 2543 L1680.1 2543 L1686.1 2543 L1692.1 2543 L1698.1 2543 L1704.1 2543 L1710.1 2543 L1716.1 2543 L1722.1 2543 L1728.1 2543 L1734.1 2543 L1740.1 2543 L1746.1 2543 L1752.1 2543 L1758.1 2543 L1764.1 2543 L1770.1 2543 L1776.2 2543 L1782.2 2543 L1788.2 2543 L1790.3 2543" fill="none" stroke="#eda426" stroke-width="6.2" stroke-linejoin="round" stroke-linecap="butt" opacity="1.0" />
<path d="M406 2543 L406.2 2537 L406.5 2531 L406.7 2525 L407 2519 L407.3 2513 L407.6 2507 L407.8 2501 L408.1 2495 L408.4 2489.1 L408.7 2483.1 L409 2477.1 L409.3 2471.1 L409.4 2470 L409.6 2465.1 L409.9 2459.1 L410.2 2453 L410.4 2447 L410.7 2441 L411.1 2435 L411.6 2429.1 L412 2425 L412.2 2423 L413.5 2415.5 L415 2412 L415.1 2412 L417 2416.7 L419 2423.9 L419 2424 L420.9 2429.5 L422.8 2435.2 L424.7 2440.9 L425.4 2443 L426.5 2446.6 L428.3 2452.4 L430 2458.1 L431.7 2463.9 L432.8 2467.7 L433.4 2469.6 L435 2475.4 L436.7 2481.2 L438.4 2486.9 L439 2488.7 L440.3 2492.6 L442.3 2498.3 L444.4 2504 L446.4 2508.4 L446.9 2509.4 L449.8 2514.7 L453.2 2519.7 L456 2523 L457.1 2524.1 L461.4 2528.4 L466.3 2532.4 L471.5 2535.6 L475 2537 L476.8 2537.5 L482.4 2539.1 L488.2 2540.5 L494.3 2541.6 L500.4 2542.4 L506.5 2542.9 L510 2543 L512.5 2543 L518.4 2543 L524.4 2543 L530.3 2543 L536.2 2543 L542.2 2543 L548.1 2543 L554.1 2543 L560 2543 L566 2543 L571.9 2543 L577.9 2543 L583.8 2543 L589.8 2543 L595.7 2543 L601.7 2543 L607.6 2543 L613.5 2543 L619.5 2543 L625.4 2543 L631.4 2543 L637.3 2543 L643.3 2543 L649.2 2543 L655.2 2543 L661.1 2543 L667.1 2543 L673.1 2543 L679 2543 L685 2543 L690.9 2543 L696.9 2543 L702.8 2543 L708.8 2543 L714.7 2543 L720.7 2543 L726.6 2543 L732.6 2543 L738.5 2543 L744.5 2543 L750.5 2543 L756.4 2543 L762.4 2543 L768.3 2543 L774.3 2543 L780.3 2543 L786.2 2543 L792.2 2543 L798.1 2543 L804.1 2543 L810.1 2543 L816 2543 L822 2543 L827.9 2543 L833.9 2543 L839.9 2543 L845.8 2543 L851.8 2543 L857.8 2543 L863.7 2543 L869.7 2543 L875.7 2543 L881.6 2543 L887.6 2543 L893.6 2543 L899.5 2543 L905.5 2543 L911.5 2543 L917.4 2543 L923.4 2543 L929.4 2543 L935.4 2543 L941.3 2543 L947.3 2543 L953.3 2543 L959.3 2543 L965.2 2543 L971.2 2543 L977.2 2543 L983.2 2543 L989.1 2543 L995.1 2543 L1001.1 2543 L1007.1 2543 L1013 2543 L1019 2543 L1025 2543 L1031 2543 L1037 2543 L1042.9 2543 L1048.9 2543 L1054.9 2543 L1060.9 2543 L1066.9 2543 L1072.9 2543 L1078.9 2543 L1084.8 2543 L1090.8 2543 L1096.8 2543 L1102.8 2543 L1108.8 2543 L1114.8 2543 L1120.8 2543 L1126.8 2543 L1132.8 2543 L1138.7 2543 L1144.7 2543 L1150.7 2543 L1156.7 2543 L1162.7 2543 L1168.7 2543 L1174.7 2543 L1180.7 2543 L1186.7 2543 L1192.7 2543 L1198.7 2543 L1204.7 2543 L1210.7 2543 L1216.7 2543 L1222.7 2543 L1228.7 2543 L1234.7 2543 L1240.7 2543 L1246.7 2543 L1252.7 2543 L1258.7 2543 L1264.7 2543 L1270.7 2543 L1276.8 2543 L1282.8 2543 L1288.8 2543 L1294.8 2543 L1300.8 2543 L1306.8 2543 L1312.8 2543 L1318.8 2543 L1324.8 2543 L1330.9 2543 L1336.9 2543 L1342.9 2543 L1348.9 2543 L1354.9 2543 L1360.9 2543 L1367 2543 L1373 2543 L1379 2543 L1385 2543 L1391.1 2543 L1397.1 2543 L1403.1 2543 L1409.1 2543 L1415.1 2543 L1421.2 2543 L1427.2 2543 L1433.2 2543 L1439.3 2543 L1445.3 2543 L1451.3 2543 L1457.4 2543 L1463.4 2543 L1469.4 2543 L1475.5 2543 L1481.5 2543 L1487.5 2543 L1493.6 2543 L1499.6 2543 L1505.6 2543 L1511.7 2543 L1517.7 2543 L1523.8 2543 L1529.8 2543 L1535.8 2543 L1541.9 2543 L1547.9 2543 L1554 2543 L1560 2543 L1566.1 2543 L1572.1 2543 L1578.2 2543 L1584.2 2543 L1590.3 2543 L1596.3 2543 L1602.4 2543 L1608.4 2543 L1614.5 2543 L1620.5 2543 L1626.6 2543 L1632.7 2543 L1638.7 2543 L1644.8 2543 L1650.8 2543 L1656.9 2543 L1663 2543 L1669 2543 L1675.1 2543 L1681.2 2543 L1687.2 2543 L1693.3 2543 L1699.4 2543 L1705.4 2543 L1711.5 2543 L1717.6 2543 L1723.6 2543 L1729.7 2543 L1735.8 2543 L1741.9 2543 L1747.9 2543 L1754 2543 L1760.1 2543 L1766.2 2543 L1772.3 2543 L1778.3 2543 L1784.4 2543 L1790.3 2543" fill="none" stroke="#4a4a4a" stroke-width="4.4" stroke-linejoin="round" stroke-linecap="butt" opacity="1.0" />
<line x1="402.2" y1="2543" x2="1790.3" y2="2543" stroke="#c9a055" stroke-width="6" opacity="0.85"/>
<line x1="598" y1="1454" x2="741" y2="1454" stroke="#b042d2" stroke-width="8" opacity="1.0"/>
<line x1="598" y1="1508.2" x2="741" y2="1508.2" stroke="#14a482" stroke-width="8" opacity="1.0"/>
<line x1="598" y1="1562.4" x2="741" y2="1562.4" stroke="#5eb0dc" stroke-width="6.2" opacity="1.0"/>
<line x1="598" y1="1616.6" x2="741" y2="1616.6" stroke="#ecaa38" stroke-width="6.2" opacity="1.0"/>
<line x1="598" y1="1670.8" x2="741" y2="1670.8" stroke="#ec564a" stroke-width="6.2" opacity="1.0"/>
<line x1="598" y1="1725" x2="741" y2="1725" stroke="#3a3a3a" stroke-width="4.6" opacity="1.0"/>
<line x1="598" y1="1779.2" x2="741" y2="1779.2" stroke="#b85ad0" stroke-width="4.6" opacity="1.0"/>
<line x1="598" y1="1833.4" x2="741" y2="1833.4" stroke="#34b090" stroke-width="4.6" opacity="1.0"/>
<line x1="598" y1="1887.6" x2="741" y2="1887.6" stroke="#78bce4" stroke-width="4.4" opacity="1.0"/>
<line x1="598" y1="1941.8" x2="741" y2="1941.8" stroke="#f0b450" stroke-width="4.4" opacity="1.0"/>
<rect x="1053" y="1474.5" width="769" height="586.5" fill="none" stroke="#d4d4d4" stroke-width="6"/>
<line x1="1162.9" y1="2061" x2="1162.9" y2="2040" stroke="#dadada" stroke-width="4.5" opacity="1.0"/>
<line x1="1162.9" y1="1474.5" x2="1162.9" y2="1495.5" stroke="#dadada" stroke-width="4.5" opacity="1.0"/>
<line x1="1272.7" y1="2061" x2="1272.7" y2="2040" stroke="#dadada" stroke-width="4.5" opacity="1.0"/>
<line x1="1272.7" y1="1474.5" x2="1272.7" y2="1495.5" stroke="#dadada" stroke-width="4.5" opacity="1.0"/>
<line x1="1382.6" y1="2061" x2="1382.6" y2="2040" stroke="#dadada" stroke-width="4.5" opacity="1.0"/>
<line x1="1382.6" y1="1474.5" x2="1382.6" y2="1495.5" stroke="#dadada" stroke-width="4.5" opacity="1.0"/>
<line x1="1492.4" y1="2061" x2="1492.4" y2="2040" stroke="#dadada" stroke-width="4.5" opacity="1.0"/>
<line x1="1492.4" y1="1474.5" x2="1492.4" y2="1495.5" stroke="#dadada" stroke-width="4.5" opacity="1.0"/>
<line x1="1602.3" y1="2061" x2="1602.3" y2="2040" stroke="#dadada" stroke-width="4.5" opacity="1.0"/>
<line x1="1602.3" y1="1474.5" x2="1602.3" y2="1495.5" stroke="#dadada" stroke-width="4.5" opacity="1.0"/>
<line x1="1712.1" y1="2061" x2="1712.1" y2="2040" stroke="#dadada" stroke-width="4.5" opacity="1.0"/>
<line x1="1712.1" y1="1474.5" x2="1712.1" y2="1495.5" stroke="#dadada" stroke-width="4.5" opacity="1.0"/>
<line x1="1053" y1="1963.2" x2="1074" y2="1963.2" stroke="#dadada" stroke-width="4.5" opacity="1.0"/>
<line x1="1822" y1="1963.2" x2="1801" y2="1963.2" stroke="#dadada" stroke-width="4.5" opacity="1.0"/>
<line x1="1053" y1="1865.5" x2="1074" y2="1865.5" stroke="#dadada" stroke-width="4.5" opacity="1.0"/>
<line x1="1822" y1="1865.5" x2="1801" y2="1865.5" stroke="#dadada" stroke-width="4.5" opacity="1.0"/>
<line x1="1053" y1="1767.8" x2="1074" y2="1767.8" stroke="#dadada" stroke-width="4.5" opacity="1.0"/>
<line x1="1822" y1="1767.8" x2="1801" y2="1767.8" stroke="#dadada" stroke-width="4.5" opacity="1.0"/>
<line x1="1053" y1="1670" x2="1074" y2="1670" stroke="#dadada" stroke-width="4.5" opacity="1.0"/>
<line x1="1822" y1="1670" x2="1801" y2="1670" stroke="#dadada" stroke-width="4.5" opacity="1.0"/>
<line x1="1053" y1="1572.2" x2="1074" y2="1572.2" stroke="#dadada" stroke-width="4.5" opacity="1.0"/>
<line x1="1822" y1="1572.2" x2="1801" y2="1572.2" stroke="#dadada" stroke-width="4.5" opacity="1.0"/>
<path d="M1056 2060 L1056.1 2049.4 L1056.4 2042.9 L1056.8 2040.2 L1057 2040 L1058.7 2041.9 L1063.5 2047.5 L1064 2048 L1068.1 2051.5 L1073.2 2054.7 L1074 2055 L1078.7 2056.5 L1084.6 2058 L1090.6 2059.1 L1096.6 2059.9 L1098.5 2060 L1102.6 2060.3 L1108.6 2060.6 L1114.6 2060.8 L1120.6 2061 L1125 2061" fill="none" stroke="#52b0e6" stroke-width="5" stroke-linejoin="round" stroke-linecap="butt" opacity="1.0" />
<path d="M1063.5 1700 L1063.5 1694 L1063.5 1688 L1063.6 1682 L1063.6 1676 L1063.6 1670 L1063.7 1664 L1063.8 1658 L1063.8 1652 L1063.9 1646 L1063.9 1640 L1064 1634 L1064.1 1628 L1064.2 1622 L1064.3 1616 L1064.3 1610 L1064.4 1604 L1064.5 1598 L1064.6 1592 L1064.7 1586 L1064.8 1580 L1064.8 1580 L1064.9 1574 L1065 1568 L1065.1 1562 L1065.2 1556 L1065.3 1549.9 L1065.4 1543.9 L1065.5 1537.9 L1065.7 1531.9 L1065.9 1526 L1066.2 1520 L1066.4 1515 L1066.5 1514 L1067.4 1506.5 L1068.7 1499.6 L1069.7 1497 L1069.8 1497 L1070.5 1501 L1071.1 1508.5 L1071.5 1515 L1071.5 1515.6 L1071.9 1521.6 L1072.2 1527.6 L1072.4 1533.5 L1072.7 1539.5 L1072.9 1545.5 L1073.1 1551.5 L1073.3 1557.5 L1073.4 1563.5 L1073.6 1569.5 L1073.8 1575.5 L1074 1580 L1074.1 1581.5 L1074.3 1587.5 L1074.5 1593.5 L1074.7 1599.5 L1075 1605.5 L1075.2 1611.5 L1075.4 1617.5 L1075.6 1623.5 L1075.9 1629.5 L1076.1 1635.5 L1076.3 1641.5 L1076.5 1647.5 L1076.8 1653.5 L1077 1659.5 L1077.2 1665.5 L1077.4 1671.5 L1077.7 1677.5 L1077.9 1683.5 L1078.1 1689.5 L1078.3 1695.5 L1078.5 1700 Z" fill="#f0aa2c" opacity="0.9" stroke="none"/>
<path d="M1058 2060 L1058.6 2054 L1059.1 2048 L1059.6 2042.1 L1060 2036.1 L1060 2035 L1060.2 2030.1 L1060.4 2024.1 L1060.6 2018.1 L1060.8 2012.1 L1061 2006.1 L1061.1 2000.1 L1061.3 1994.1 L1061.4 1988.1 L1061.5 1982.1 L1061.5 1980 L1061.5 1976.1 L1061.6 1970.1 L1061.7 1964.1 L1061.8 1958.1 L1061.8 1952.1 L1061.9 1946.1 L1061.9 1940.1 L1062 1934.1 L1062 1928.1 L1062 1922.1 L1062.1 1916.1 L1062.1 1910.1 L1062.2 1904.1 L1062.2 1898.1 L1062.2 1892.1 L1062.3 1886.1 L1062.3 1880.1 L1062.3 1874.1 L1062.4 1868.1 L1062.4 1862.1 L1062.5 1856.1 L1062.5 1850.1 L1062.5 1850 L1062.5 1844.1 L1062.6 1838.1 L1062.6 1832.1 L1062.7 1826.1 L1062.7 1820.1 L1062.7 1814.1 L1062.8 1808.1 L1062.8 1802.1 L1062.8 1796.1 L1062.9 1790.1 L1062.9 1784.1 L1063 1778.1 L1063 1772.1 L1063 1766.1 L1063.1 1760.1 L1063.1 1754.1 L1063.1 1748.1 L1063.2 1742.1 L1063.2 1736.1 L1063.3 1730.1 L1063.3 1724.1 L1063.4 1718.1 L1063.4 1712.1 L1063.5 1706.1 L1063.5 1700.1 L1063.5 1700 L1063.5 1694.1 L1063.6 1688.1 L1063.7 1682.1 L1063.7 1676.1 L1063.8 1670.1 L1063.8 1664.1 L1063.9 1658.1 L1063.9 1652.1 L1064 1646.1 L1064 1640.1 L1064.1 1634.1 L1064.2 1628.1 L1064.2 1622.1 L1064.3 1616.1 L1064.4 1610.1 L1064.5 1604.1 L1064.5 1598.1 L1064.6 1592.1 L1064.7 1586.1 L1064.8 1580.1 L1064.8 1580 L1064.9 1574.1 L1065 1568.1 L1065.1 1562.1 L1065.2 1556.1 L1065.3 1550.1 L1065.4 1544 L1065.5 1538 L1065.7 1532 L1065.9 1526.1 L1066.2 1520.1 L1066.4 1515 L1066.5 1514.1 L1067.4 1506.6 L1068.7 1499.7 L1069.7 1497 L1069.8 1497 L1070.5 1500.9 L1071.1 1508.3 L1071.5 1515 L1071.5 1515.5 L1071.9 1521.5 L1072.2 1527.4 L1072.4 1533.4 L1072.7 1539.4 L1072.9 1545.4 L1073.1 1551.4 L1073.2 1557.4 L1073.4 1563.4 L1073.6 1569.4 L1073.8 1575.4 L1074 1580 L1074.1 1581.4 L1074.3 1587.4 L1074.5 1593.4 L1074.7 1599.4 L1075 1605.4 L1075.2 1611.4 L1075.4 1617.4 L1075.6 1623.4 L1075.8 1629.4 L1076 1635.4 L1076.3 1641.4 L1076.5 1647.4 L1076.7 1653.4 L1076.9 1659.4 L1077.2 1665.4 L1077.4 1671.4 L1077.6 1677.4 L1077.8 1683.4 L1078.1 1689.4 L1078.3 1695.3 L1078.5 1700 L1078.6 1701.3 L1078.8 1707.3 L1079 1713.3 L1079.3 1719.3 L1079.5 1725.3 L1079.8 1731.3 L1080 1737.3 L1080.3 1743.3 L1080.5 1749.3 L1080.8 1755.3 L1081 1761.3 L1081.3 1767.3 L1081.5 1773.3 L1081.8 1779.3 L1082 1785.3 L1082.3 1791.3 L1082.6 1797.3 L1082.8 1803.3 L1083.1 1809.2 L1083.4 1815.2 L1083.6 1821.2 L1083.9 1827.2 L1084.2 1833.2 L1084.5 1839.2 L1084.8 1845.2 L1085 1850 L1085.1 1851.2 L1085.3 1857.2 L1085.6 1863.2 L1085.9 1869.2 L1086.1 1875.2 L1086.4 1881.2 L1086.6 1887.2 L1086.9 1893.2 L1087.1 1899.2 L1087.4 1905.2 L1087.7 1911.2 L1087.9 1917.2 L1088.2 1923.2 L1088.6 1929.2 L1088.9 1935.2 L1089.2 1941.2 L1089.6 1947.2 L1090 1953.2 L1090.5 1959.2 L1090.9 1965.1 L1091.5 1971.1 L1092 1977 L1092 1977 L1092.7 1982.9 L1093.7 1988.9 L1094.8 1994.8 L1096 2000.7 L1097 2005 L1097.3 2006.5 L1098.8 2012.3 L1100.5 2018.1 L1102.3 2023.9 L1103.4 2027 L1104.3 2029.5 L1106.6 2035 L1109.1 2040.5 L1111.8 2045.8 L1113 2048 Z" fill="#fde9b4" opacity="0.3" stroke="none"/>
<path d="M1058 2060 L1058.6 2054 L1059.1 2048 L1059.6 2042.1 L1060 2036.1 L1060 2035 L1060.2 2030.1 L1060.4 2024.1 L1060.6 2018.1 L1060.8 2012.1 L1061 2006.1 L1061.1 2000.1 L1061.3 1994.1 L1061.4 1988.1 L1061.5 1982.1 L1061.5 1980 L1061.5 1976.1 L1061.6 1970.1 L1061.7 1964.1 L1061.8 1958.1 L1061.8 1952.1 L1061.9 1946.1 L1061.9 1940.1 L1062 1934.1 L1062 1928.1 L1062 1922.1 L1062.1 1916.1 L1062.1 1910.1 L1062.2 1904.1 L1062.2 1898.1 L1062.2 1892.1 L1062.3 1886.1 L1062.3 1880.1 L1062.3 1874.1 L1062.4 1868.1 L1062.4 1862.1 L1062.5 1856.1 L1062.5 1850.1 L1062.5 1850 L1062.5 1844.1 L1062.6 1838.1 L1062.6 1832.1 L1062.7 1826.1 L1062.7 1820.1 L1062.7 1814.1 L1062.8 1808.1 L1062.8 1802.1 L1062.8 1796.1 L1062.9 1790.1 L1062.9 1784.1 L1063 1778.1 L1063 1772.1 L1063 1766.1 L1063.1 1760.1 L1063.1 1754.1 L1063.1 1748.1 L1063.2 1742.1 L1063.2 1736.1 L1063.3 1730.1 L1063.3 1724.1 L1063.4 1718.1 L1063.4 1712.1 L1063.5 1706.1 L1063.5 1700.1 L1063.5 1700 L1063.5 1694.1 L1063.6 1688.1 L1063.7 1682.1 L1063.7 1676.1 L1063.8 1670.1 L1063.8 1664.1 L1063.9 1658.1 L1063.9 1652.1 L1064 1646.1 L1064 1640.1 L1064.1 1634.1 L1064.2 1628.1 L1064.2 1622.1 L1064.3 1616.1 L1064.4 1610.1 L1064.5 1604.1 L1064.5 1598.1 L1064.6 1592.1 L1064.7 1586.1 L1064.8 1580.1 L1064.8 1580 L1064.9 1574.1 L1065 1568.1 L1065.1 1562.1 L1065.2 1556.1 L1065.3 1550.1 L1065.4 1544 L1065.5 1538 L1065.7 1532 L1065.9 1526.1 L1066.2 1520.1 L1066.4 1515 L1066.5 1514.1 L1067.4 1506.6 L1068.7 1499.7 L1069.7 1497 L1069.8 1497 L1070.5 1500.9 L1071.1 1508.3 L1071.5 1515 L1071.5 1515.5 L1071.9 1521.5 L1072.2 1527.4 L1072.4 1533.4 L1072.7 1539.4 L1072.9 1545.4 L1073.1 1551.4 L1073.2 1557.4 L1073.4 1563.4 L1073.6 1569.4 L1073.8 1575.4 L1074 1580 L1074.1 1581.4 L1074.3 1587.4 L1074.5 1593.4 L1074.7 1599.4 L1075 1605.4 L1075.2 1611.4 L1075.4 1617.4 L1075.6 1623.4 L1075.8 1629.4 L1076 1635.4 L1076.3 1641.4 L1076.5 1647.4 L1076.7 1653.4 L1076.9 1659.4 L1077.2 1665.4 L1077.4 1671.4 L1077.6 1677.4 L1077.8 1683.4 L1078.1 1689.4 L1078.3 1695.3 L1078.5 1700 L1078.6 1701.3 L1078.8 1707.3 L1079 1713.3 L1079.3 1719.3 L1079.5 1725.3 L1079.8 1731.3 L1080 1737.3 L1080.3 1743.3 L1080.5 1749.3 L1080.8 1755.3 L1081 1761.3 L1081.3 1767.3 L1081.5 1773.3 L1081.8 1779.3 L1082 1785.3 L1082.3 1791.3 L1082.6 1797.3 L1082.8 1803.3 L1083.1 1809.2 L1083.4 1815.2 L1083.6 1821.2 L1083.9 1827.2 L1084.2 1833.2 L1084.5 1839.2 L1084.8 1845.2 L1085 1850 L1085.1 1851.2 L1085.3 1857.2 L1085.6 1863.2 L1085.9 1869.2 L1086.1 1875.2 L1086.4 1881.2 L1086.6 1887.2 L1086.9 1893.2 L1087.1 1899.2 L1087.4 1905.2 L1087.7 1911.2 L1087.9 1917.2 L1088.2 1923.2 L1088.6 1929.2 L1088.9 1935.2 L1089.2 1941.2 L1089.6 1947.2 L1090 1953.2 L1090.5 1959.2 L1090.9 1965.1 L1091.5 1971.1 L1092 1977 L1092 1977 L1092.7 1982.9 L1093.7 1988.9 L1094.8 1994.8 L1096 2000.7 L1097 2005 L1097.3 2006.5 L1098.8 2012.3 L1100.5 2018.1 L1102.3 2023.9 L1103.4 2027 L1104.3 2029.5 L1106.4 2035.4 L1108.8 2041.2 L1111.7 2046.3 L1113 2048 L1115.3 2050.4 L1120.3 2054.3 L1125.9 2057 L1128 2057.6 L1131.5 2058.3 L1137.2 2059.2 L1143.3 2059.8 L1149.6 2060 L1150 2060" fill="none" stroke="#eea522" stroke-width="5.4" stroke-linejoin="round" stroke-linecap="butt" opacity="1.0" />
<line x1="1128" y1="2061" x2="1786.5" y2="2061" stroke="#d9b05a" stroke-width="8.5" opacity="1.0"/>
<line x1="1232" y1="1523.3" x2="1376" y2="1523.3" stroke="#52b0e6" stroke-width="5.6" opacity="1.0"/>
<line x1="1232" y1="1578" x2="1376" y2="1578" stroke="#eea62a" stroke-width="5.6" opacity="1.0"/>
</g>
<g filter="url(#bt)">
<text x="377.5" y="1158.6" font-size="42" text-anchor="end" fill="#767676" opacity="1.0" stroke="#767676" stroke-width="1.3" stroke-linejoin="round" letter-spacing="3.5">0</text>
<text x="1616" y="1158.6" font-size="42" text-anchor="start" fill="#767676" opacity="1.0" stroke="#767676" stroke-width="1.3" stroke-linejoin="round" letter-spacing="3.5">0</text>
<text x="418.8" y="1206.8" font-size="42" text-anchor="middle" fill="#767676" opacity="1.0" stroke="#767676" stroke-width="1.3" stroke-linejoin="round" letter-spacing="3.5">0</text>
<text x="377.5" y="1009.4" font-size="42" text-anchor="end" fill="#767676" opacity="1.0" stroke="#767676" stroke-width="1.3" stroke-linejoin="round" letter-spacing="3.5">100000</text>
<text x="1616" y="1009.4" font-size="42" text-anchor="start" fill="#767676" opacity="1.0" stroke="#767676" stroke-width="1.3" stroke-linejoin="round" letter-spacing="3.5">2000</text>
<text x="584.2" y="1206.8" font-size="42" text-anchor="middle" fill="#767676" opacity="1.0" stroke="#767676" stroke-width="1.3" stroke-linejoin="round" letter-spacing="3.5">50</text>
<text x="377.5" y="860.1" font-size="42" text-anchor="end" fill="#767676" opacity="1.0" stroke="#767676" stroke-width="1.3" stroke-linejoin="round" letter-spacing="3.5">200000</text>
<text x="1616" y="860.1" font-size="42" text-anchor="start" fill="#767676" opacity="1.0" stroke="#767676" stroke-width="1.3" stroke-linejoin="round" letter-spacing="3.5">4000</text>
<text x="749.7" y="1206.8" font-size="42" text-anchor="middle" fill="#767676" opacity="1.0" stroke="#767676" stroke-width="1.3" stroke-linejoin="round" letter-spacing="3.5">100</text>
<text x="377.5" y="710.8" font-size="42" text-anchor="end" fill="#767676" opacity="1.0" stroke="#767676" stroke-width="1.3" stroke-linejoin="round" letter-spacing="3.5">300000</text>
<text x="1616" y="710.8" font-size="42" text-anchor="start" fill="#767676" opacity="1.0" stroke="#767676" stroke-width="1.3" stroke-linejoin="round" letter-spacing="3.5">6000</text>
<text x="915.1" y="1206.8" font-size="42" text-anchor="middle" fill="#767676" opacity="1.0" stroke="#767676" stroke-width="1.3" stroke-linejoin="round" letter-spacing="3.5">150</text>
<text x="377.5" y="561.6" font-size="42" text-anchor="end" fill="#767676" opacity="1.0" stroke="#767676" stroke-width="1.3" stroke-linejoin="round" letter-spacing="3.5">400000</text>
<text x="1616" y="561.6" font-size="42" text-anchor="start" fill="#767676" opacity="1.0" stroke="#767676" stroke-width="1.3" stroke-linejoin="round" letter-spacing="3.5">8000</text>
<text x="1080.6" y="1206.8" font-size="42" text-anchor="middle" fill="#767676" opacity="1.0" stroke="#767676" stroke-width="1.3" stroke-linejoin="round" letter-spacing="3.5">200</text>
<text x="377.5" y="412.3" font-size="42" text-anchor="end" fill="#767676" opacity="1.0" stroke="#767676" stroke-width="1.3" stroke-linejoin="round" letter-spacing="3.5">500000</text>
<text x="1616" y="412.3" font-size="42" text-anchor="start" fill="#767676" opacity="1.0" stroke="#767676" stroke-width="1.3" stroke-linejoin="round" letter-spacing="3.5">10000</text>
<text x="1246" y="1206.8" font-size="42" text-anchor="middle" fill="#767676" opacity="1.0" stroke="#767676" stroke-width="1.3" stroke-linejoin="round" letter-spacing="3.5">250</text>
<text x="377.5" y="263.1" font-size="42" text-anchor="end" fill="#767676" opacity="1.0" stroke="#767676" stroke-width="1.3" stroke-linejoin="round" letter-spacing="3.5">600000</text>
<text x="1616" y="263.1" font-size="42" text-anchor="start" fill="#767676" opacity="1.0" stroke="#767676" stroke-width="1.3" stroke-linejoin="round" letter-spacing="3.5">12000</text>
<text x="1411.5" y="1206.8" font-size="42" text-anchor="middle" fill="#767676" opacity="1.0" stroke="#767676" stroke-width="1.3" stroke-linejoin="round" letter-spacing="3.5">300</text>
<text x="377.5" y="113.8" font-size="42" text-anchor="end" fill="#767676" opacity="1.0" stroke="#767676" stroke-width="1.3" stroke-linejoin="round" letter-spacing="3.5">700000</text>
<text x="1616" y="113.8" font-size="42" text-anchor="start" fill="#767676" opacity="1.0" stroke="#767676" stroke-width="1.3" stroke-linejoin="round" letter-spacing="3.5">14000</text>
<text x="1577" y="1206.8" font-size="42" text-anchor="middle" fill="#767676" opacity="1.0" stroke="#767676" stroke-width="1.3" stroke-linejoin="round" letter-spacing="3.5">350</text>
<text x="990.2" y="1280" font-size="42" text-anchor="middle" fill="#767676" opacity="1.0" stroke="#767676" stroke-width="1.3" stroke-linejoin="round" letter-spacing="3.5">days</text>
<text x="123" y="619" font-size="42" text-anchor="middle" fill="#767676" opacity="1.0" transform="rotate(-90 123 619)" stroke="#767676" stroke-width="0.8" stroke-linejoin="round" textLength="433" lengthAdjust="spacingAndGlyphs" >antigen count per mL</text>
<text x="1862.5" y="619" font-size="42" text-anchor="middle" fill="#767676" opacity="1.0" transform="rotate(-90 1862.5 619)" stroke="#767676" stroke-width="0.8" stroke-linejoin="round" textLength="535" lengthAdjust="spacingAndGlyphs" >Ab titers (IgM, IgG1, IgG2)</text>
<text x="1922" y="618" font-size="42" text-anchor="middle" fill="#767676" opacity="1.0" transform="rotate(-90 1922 618)" stroke="#767676" stroke-width="0.8" stroke-linejoin="round" textLength="283" lengthAdjust="spacingAndGlyphs" >arbitrary scale</text>
<text x="1335.5" y="157.7" font-size="43.2" text-anchor="end" fill="#767676" opacity="1.0" stroke="#767676" stroke-width="1.3" stroke-linejoin="round" letter-spacing="3.5">Ag</text>
<text x="1335.5" y="207.4" font-size="43.2" text-anchor="end" fill="#767676" opacity="1.0" stroke="#767676" stroke-width="1.3" stroke-linejoin="round" letter-spacing="3.5">IgM+IgG</text>
<text x="1335.5" y="257.1" font-size="43.2" text-anchor="end" fill="#767676" opacity="1.0" stroke="#767676" stroke-width="1.3" stroke-linejoin="round" letter-spacing="3.5">IgM</text>
<text x="1335.5" y="306.8" font-size="43.2" text-anchor="end" fill="#767676" opacity="1.0" stroke="#767676" stroke-width="1.3" stroke-linejoin="round" letter-spacing="3.5">IgG1+IgG2</text>
<text x="1335.5" y="356.5" font-size="43.2" text-anchor="end" fill="#767676" opacity="1.0" stroke="#767676" stroke-width="1.3" stroke-linejoin="round" letter-spacing="3.5">IgG1</text>
<text x="1335.5" y="406.2" font-size="43.2" text-anchor="end" fill="#767676" opacity="1.0" stroke="#767676" stroke-width="1.3" stroke-linejoin="round" letter-spacing="3.5">IgG2</text>
<text x="363.5" y="2560.3" font-size="42" text-anchor="end" fill="#767676" opacity="1.0" stroke="#767676" stroke-width="1.3" stroke-linejoin="round" letter-spacing="3.5">0</text>
<text x="363.5" y="2433.8" font-size="42" text-anchor="end" fill="#767676" opacity="1.0" stroke="#767676" stroke-width="1.3" stroke-linejoin="round" letter-spacing="3.5">50000</text>
<text x="363.5" y="2307.3" font-size="42" text-anchor="end" fill="#767676" opacity="1.0" stroke="#767676" stroke-width="1.3" stroke-linejoin="round" letter-spacing="3.5">100000</text>
<text x="363.5" y="2180.8" font-size="42" text-anchor="end" fill="#767676" opacity="1.0" stroke="#767676" stroke-width="1.3" stroke-linejoin="round" letter-spacing="3.5">150000</text>
<text x="363.5" y="2054.4" font-size="42" text-anchor="end" fill="#767676" opacity="1.0" stroke="#767676" stroke-width="1.3" stroke-linejoin="round" letter-spacing="3.5">200000</text>
<text x="363.5" y="1927.9" font-size="42" text-anchor="end" fill="#767676" opacity="1.0" stroke="#767676" stroke-width="1.3" stroke-linejoin="round" letter-spacing="3.5">250000</text>
<text x="363.5" y="1801.4" font-size="42" text-anchor="end" fill="#767676" opacity="1.0" stroke="#767676" stroke-width="1.3" stroke-linejoin="round" letter-spacing="3.5">300000</text>
<text x="363.5" y="1674.9" font-size="42" text-anchor="end" fill="#767676" opacity="1.0" stroke="#767676" stroke-width="1.3" stroke-linejoin="round" letter-spacing="3.5">350000</text>
<text x="363.5" y="1548.4" font-size="42" text-anchor="end" fill="#767676" opacity="1.0" stroke="#767676" stroke-width="1.3" stroke-linejoin="round" letter-spacing="3.5">400000</text>
<text x="363.5" y="1421.9" font-size="42" text-anchor="end" fill="#767676" opacity="1.0" stroke="#767676" stroke-width="1.3" stroke-linejoin="round" letter-spacing="3.5">450000</text>
<text x="401.4" y="2614.9" font-size="42" text-anchor="middle" fill="#767676" opacity="1.0" stroke="#767676" stroke-width="1.3" stroke-linejoin="round" letter-spacing="3.5">0</text>
<text x="611.3" y="2614.9" font-size="42" text-anchor="middle" fill="#767676" opacity="1.0" stroke="#767676" stroke-width="1.3" stroke-linejoin="round" letter-spacing="3.5">50</text>
<text x="821.1" y="2614.9" font-size="42" text-anchor="middle" fill="#767676" opacity="1.0" stroke="#767676" stroke-width="1.3" stroke-linejoin="round" letter-spacing="3.5">100</text>
<text x="1030.9" y="2614.9" font-size="42" text-anchor="middle" fill="#767676" opacity="1.0" stroke="#767676" stroke-width="1.3" stroke-linejoin="round" letter-spacing="3.5">150</text>
<text x="1240.8" y="2614.9" font-size="42" text-anchor="middle" fill="#767676" opacity="1.0" stroke="#767676" stroke-width="1.3" stroke-linejoin="round" letter-spacing="3.5">200</text>
<text x="1450.6" y="2614.9" font-size="42" text-anchor="middle" fill="#767676" opacity="1.0" stroke="#767676" stroke-width="1.3" stroke-linejoin="round" letter-spacing="3.5">250</text>
<text x="1660.4" y="2614.9" font-size="42" text-anchor="middle" fill="#767676" opacity="1.0" stroke="#767676" stroke-width="1.3" stroke-linejoin="round" letter-spacing="3.5">300</text>
<text x="1870.2" y="2614.9" font-size="42" text-anchor="middle" fill="#767676" opacity="1.0" stroke="#767676" stroke-width="1.3" stroke-linejoin="round" letter-spacing="3.5">350</text>
<text x="1128.2" y="2698" font-size="42" text-anchor="middle" fill="#767676" opacity="1.0" stroke="#767676" stroke-width="1.3" stroke-linejoin="round" letter-spacing="3.5">days</text>
<text x="115.3" y="1976" font-size="44" text-anchor="middle" fill="#767676" opacity="1.0" transform="rotate(-90 115.3 1976)" stroke="#767676" stroke-width="1.3" stroke-linejoin="round" textLength="136" lengthAdjust="spacingAndGlyphs" >ng/mL</text>
<text x="571" y="1469.8" font-size="42" text-anchor="end" fill="#767676" opacity="1.0" stroke="#767676" stroke-width="1.3" stroke-linejoin="round" letter-spacing="3.5">IFN-g</text>
<text x="571" y="1524" font-size="42" text-anchor="end" fill="#767676" opacity="1.0" stroke="#767676" stroke-width="1.3" stroke-linejoin="round" letter-spacing="3.5">IL-4</text>
<text x="571" y="1578.2" font-size="42" text-anchor="end" fill="#767676" opacity="1.0" stroke="#767676" stroke-width="1.3" stroke-linejoin="round" letter-spacing="3.5">IL-12</text>
<text x="571" y="1632.4" font-size="42" text-anchor="end" fill="#767676" opacity="1.0" stroke="#767676" stroke-width="1.3" stroke-linejoin="round" letter-spacing="3.5">TGF-b</text>
<text x="571" y="1686.6" font-size="42" text-anchor="end" fill="#767676" opacity="1.0" stroke="#767676" stroke-width="1.3" stroke-linejoin="round" letter-spacing="3.5">TNF-a</text>
<text x="571" y="1740.8" font-size="42" text-anchor="end" fill="#767676" opacity="1.0" stroke="#767676" stroke-width="1.3" stroke-linejoin="round" letter-spacing="3.5">IL-10</text>
<text x="571" y="1795" font-size="42" text-anchor="end" fill="#767676" opacity="1.0" stroke="#767676" stroke-width="1.3" stroke-linejoin="round" letter-spacing="3.5">IL-6</text>
<text x="571" y="1849.2" font-size="42" text-anchor="end" fill="#767676" opacity="1.0" stroke="#767676" stroke-width="1.3" stroke-linejoin="round" letter-spacing="3.5">IFN-b</text>
<text x="571" y="1903.4" font-size="42" text-anchor="end" fill="#767676" opacity="1.0" stroke="#767676" stroke-width="1.3" stroke-linejoin="round" letter-spacing="3.5">IL-18</text>
<text x="571" y="1957.6" font-size="42" text-anchor="end" fill="#767676" opacity="1.0" stroke="#767676" stroke-width="1.3" stroke-linejoin="round" letter-spacing="3.5">IL-23</text>
<text x="1027.5" y="2078.3" font-size="42" text-anchor="end" fill="#767676" opacity="1.0" stroke="#767676" stroke-width="1.3" stroke-linejoin="round" letter-spacing="3.5">0</text>
<text x="1027.5" y="1980.6" font-size="42" text-anchor="end" fill="#767676" opacity="1.0" stroke="#767676" stroke-width="1.3" stroke-linejoin="round" letter-spacing="3.5">50000</text>
<text x="1027.5" y="1882.8" font-size="42" text-anchor="end" fill="#767676" opacity="1.0" stroke="#767676" stroke-width="1.3" stroke-linejoin="round" letter-spacing="3.5">100000</text>
<text x="1027.5" y="1785.1" font-size="42" text-anchor="end" fill="#767676" opacity="1.0" stroke="#767676" stroke-width="1.3" stroke-linejoin="round" letter-spacing="3.5">150000</text>
<text x="1027.5" y="1687.3" font-size="42" text-anchor="end" fill="#767676" opacity="1.0" stroke="#767676" stroke-width="1.3" stroke-linejoin="round" letter-spacing="3.5">200000</text>
<text x="1027.5" y="1589.6" font-size="42" text-anchor="end" fill="#767676" opacity="1.0" stroke="#767676" stroke-width="1.3" stroke-linejoin="round" letter-spacing="3.5">250000</text>
<text x="1027.5" y="1491.8" font-size="42" text-anchor="end" fill="#767676" opacity="1.0" stroke="#767676" stroke-width="1.3" stroke-linejoin="round" letter-spacing="3.5">300000</text>
<text x="1061.8" y="2130.8" font-size="42" text-anchor="middle" fill="#767676" opacity="1.0" stroke="#767676" stroke-width="1.3" stroke-linejoin="round" letter-spacing="3.5">0</text>
<text x="1171.6" y="2130.8" font-size="42" text-anchor="middle" fill="#767676" opacity="1.0" stroke="#767676" stroke-width="1.3" stroke-linejoin="round" letter-spacing="3.5">50</text>
<text x="1281.5" y="2130.8" font-size="42" text-anchor="middle" fill="#767676" opacity="1.0" stroke="#767676" stroke-width="1.3" stroke-linejoin="round" letter-spacing="3.5">100</text>
<text x="1391.3" y="2130.8" font-size="42" text-anchor="middle" fill="#767676" opacity="1.0" stroke="#767676" stroke-width="1.3" stroke-linejoin="round" letter-spacing="3.5">150</text>
<text x="1501.2" y="2130.8" font-size="42" text-anchor="middle" fill="#767676" opacity="1.0" stroke="#767676" stroke-width="1.3" stroke-linejoin="round" letter-spacing="3.5">200</text>
<text x="1611" y="2130.8" font-size="42" text-anchor="middle" fill="#767676" opacity="1.0" stroke="#767676" stroke-width="1.3" stroke-linejoin="round" letter-spacing="3.5">250</text>
<text x="1720.9" y="2130.8" font-size="42" text-anchor="middle" fill="#767676" opacity="1.0" stroke="#767676" stroke-width="1.3" stroke-linejoin="round" letter-spacing="3.5">300</text>
<text x="1830.8" y="2130.8" font-size="42" text-anchor="middle" fill="#767676" opacity="1.0" stroke="#767676" stroke-width="1.3" stroke-linejoin="round" letter-spacing="3.5">350</text>
<text x="1208" y="1538.8" font-size="42" text-anchor="end" fill="#767676" opacity="1.0" stroke="#767676" stroke-width="1.3" stroke-linejoin="round" letter-spacing="3.5">D</text>
<text x="1203.5" y="1593.3" font-size="42" text-anchor="end" fill="#767676" opacity="1.0" stroke="#767676" stroke-width="1.3" stroke-linejoin="round" letter-spacing="3.5">IL-2</text>
</g>
<rect x="39" y="35" width="1920" height="6.5" fill="#232323"/>
<rect x="39" y="35" width="7" height="1300" fill="#232323"/>
<rect x="1952" y="35" width="7" height="1300" fill="#232323"/>
<rect x="39" y="1335" width="7" height="1422" fill="#2d2d2d"/>
<rect x="1952" y="1335" width="7" height="1422" fill="#2d2d2d"/>
<rect x="39" y="1327" width="1920" height="8.5" fill="#232323"/>
<rect x="39" y="1335" width="1920" height="5" fill="#2d2d2d"/>
<rect x="39" y="2750" width="1920" height="7" fill="#2d2d2d"/>
<text x="61.5" y="127.5" font-size="97" fill="#000" textLength="73.5" lengthAdjust="spacingAndGlyphs" style='font-family:"Liberation Serif","DejaVu Serif",serif'>A</text>
<text x="61.5" y="1426" font-size="97" fill="#000" textLength="66" lengthAdjust="spacingAndGlyphs" style='font-family:"Liberation Serif","DejaVu Serif",serif'>B</text>
</svg>
</body>
</html>
